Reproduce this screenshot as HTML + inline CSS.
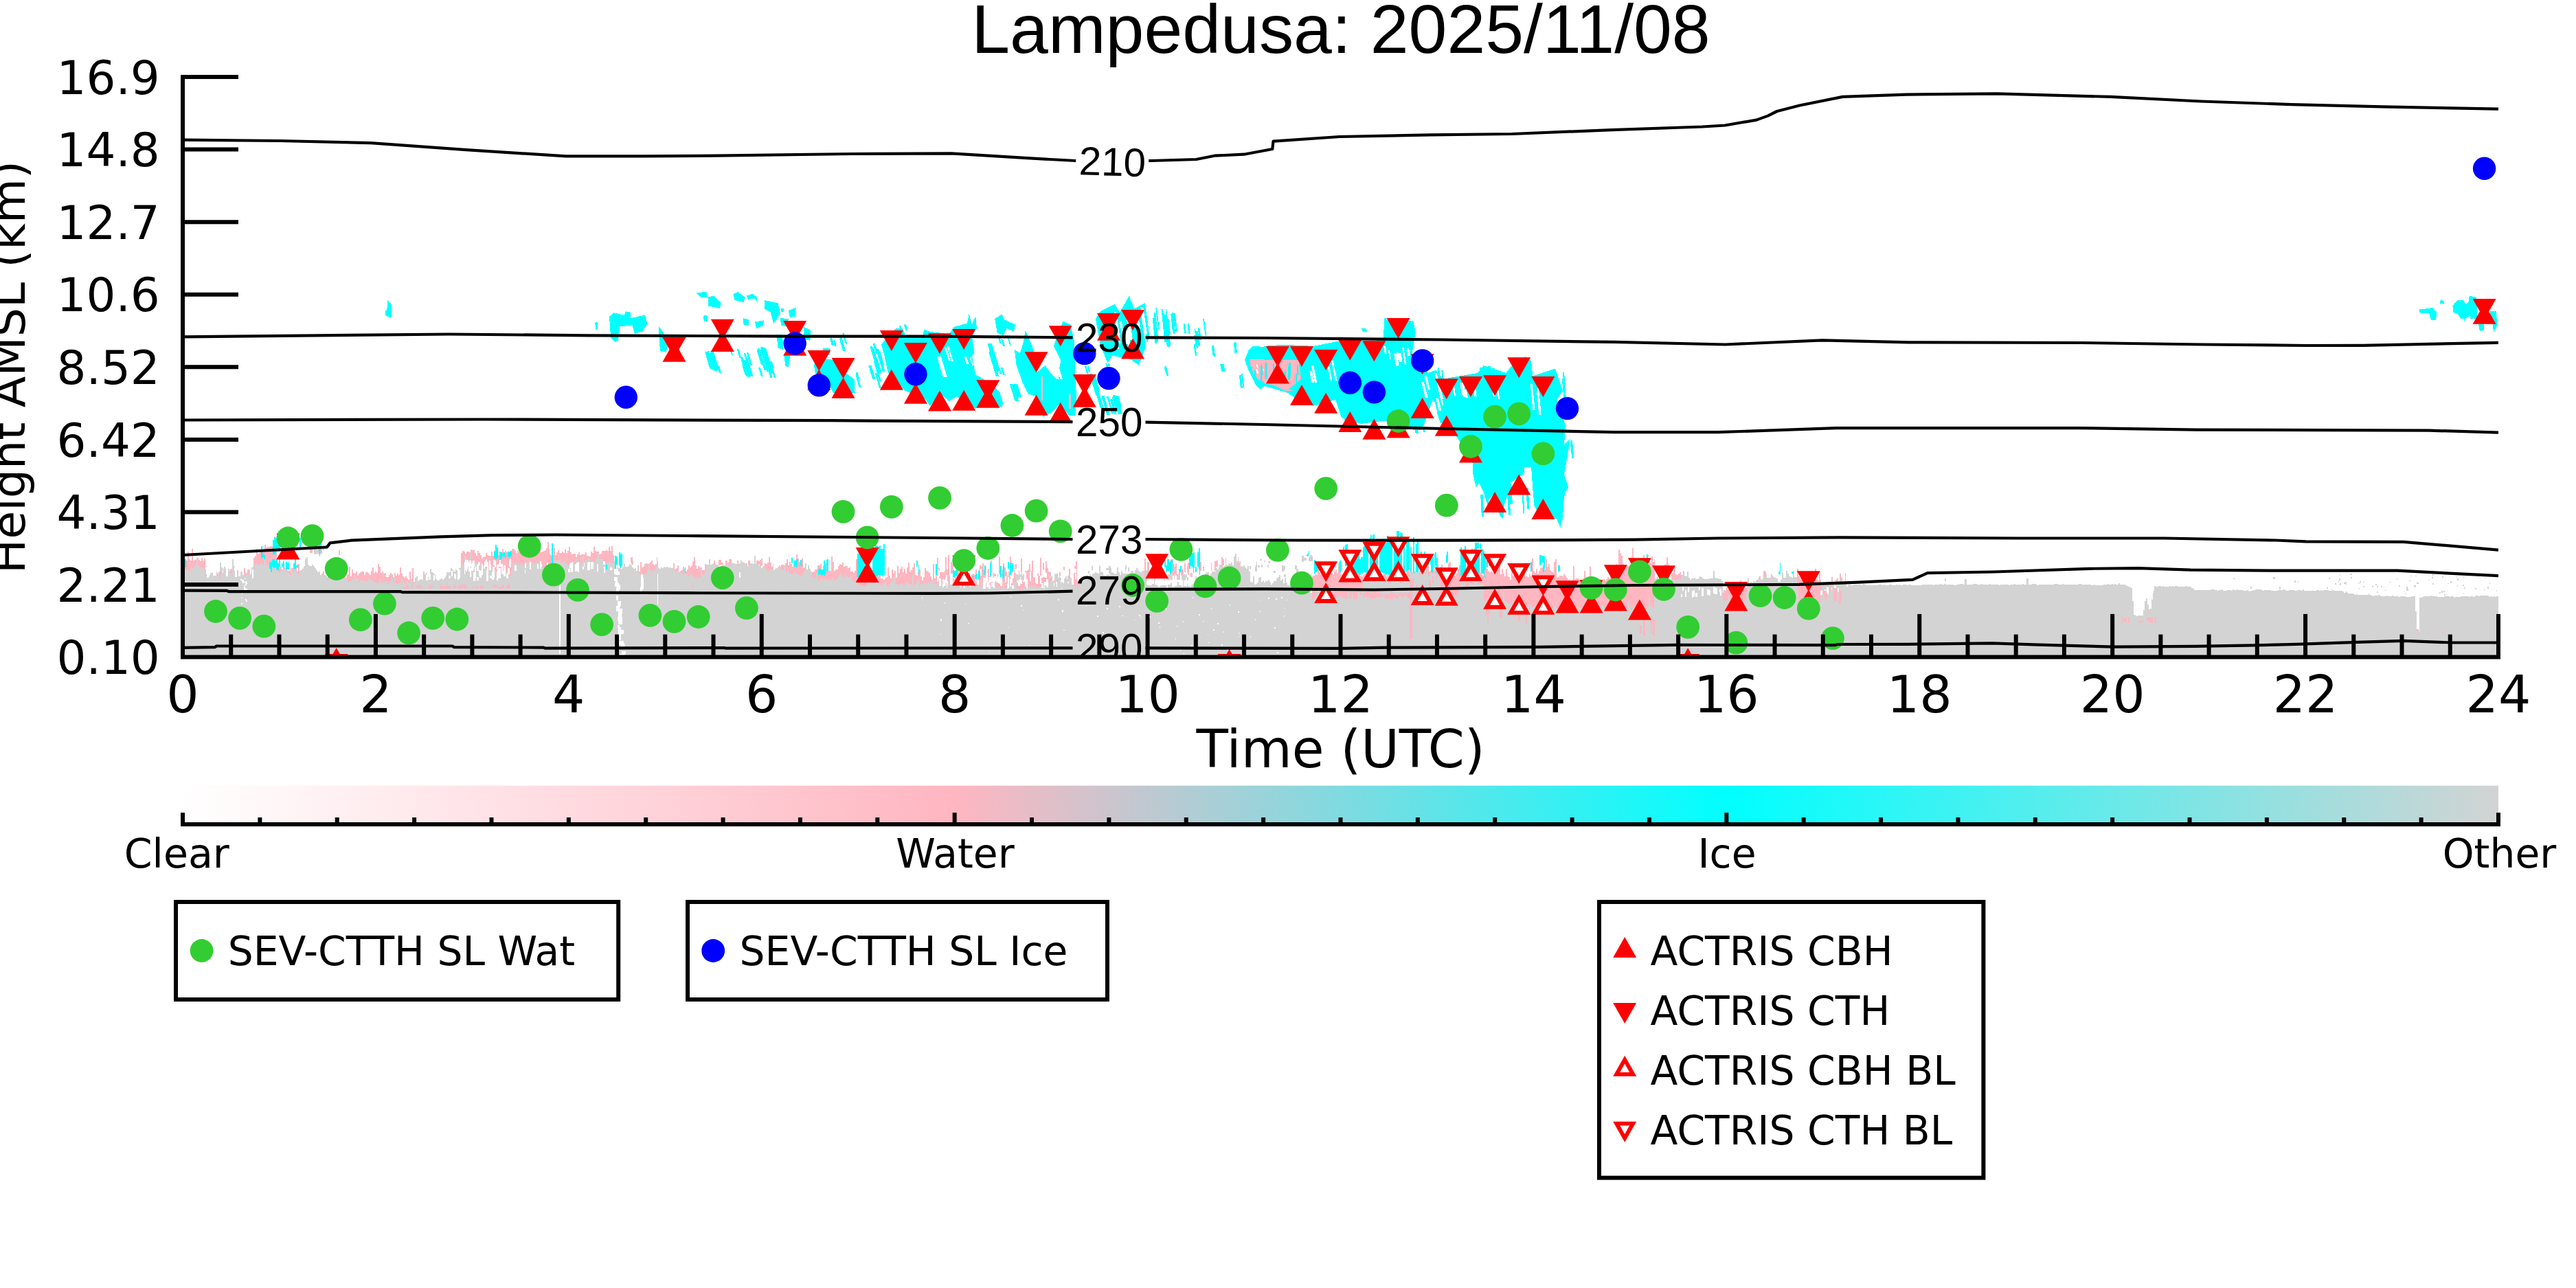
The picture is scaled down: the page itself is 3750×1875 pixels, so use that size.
<!DOCTYPE html>
<html lang="en"><head><meta charset="utf-8"><title>Lampedusa: 2025/11/08</title>
<style>html,body{margin:0;padding:0;background:#fff;}body{width:3750px;height:1875px;overflow:hidden;}svg{display:block;}text{font-family:"DejaVu Sans","Liberation Sans",sans-serif;fill:#000;}.lib{font-family:"Liberation Sans","DejaVu Sans",sans-serif;}</style></head><body>
<svg width="3750" height="1875" viewBox="0 0 3750 1875">
<defs>
<clipPath id="ax"><rect x="266.0" y="72.0" width="3371.0" height="884.6"/></clipPath>
<linearGradient id="cb" x1="0" y1="0" x2="1" y2="0"><stop offset="0" stop-color="#ffffff"/><stop offset="0.33333" stop-color="#ffb6c1"/><stop offset="0.66667" stop-color="#00ffff"/><stop offset="1" stop-color="#d3d3d3"/></linearGradient>
</defs>
<rect x="0" y="0" width="3750" height="1875" fill="#fff"/>
<g clip-path="url(#ax)" shape-rendering="crispEdges">
<path fill="#ffb6c1" d="M268.7,956.6V813.8h2.0V815.9h2.0V802.8h2.0V814.4h2.0V815.6h2.0V798.8h2.0V815.5h2.0V815.3h2.0V813.7h2.0V812.4h2.0V815.0h2.0V816.6h2.0V812.4h2.0V815.8h2.0V812.6h2.0V794.3h0.4V956.6zM368.7,956.6V812.0h2.0V808.7h2.0V798.9h2.0V806.4h2.0V805.2h2.0V800.7h2.0V801.0h2.0V799.0h2.0V793.4h2.0V796.9h2.0V795.5h2.0V795.9h2.0V795.0h2.0V794.7h2.0V800.5h2.0V803.6h2.0V803.6h2.0V812.4h0.8V956.6zM403.5,956.6V824.9h2.0V826.9h2.0V824.8h2.0V829.9h2.0V820.7h2.0V826.3h2.0V826.3h2.0V830.8h2.0V830.5h2.0V829.9h2.0V827.4h2.0V826.5h2.0V824.3h2.0V825.0h2.0V831.5h2.0V821.0h2.0V830.6h2.0V830.0h2.0V827.9h2.0V827.9h2.0V829.6h2.0V834.2h2.0V824.5h2.0V828.6h2.0V827.3h2.0V827.9h2.0V828.8h2.0V831.6h2.0V834.0h2.0V834.7h2.0V836.2h2.0V837.4h2.0V834.6h2.0V831.6h2.0V838.8h2.0V838.4h2.0V841.1h1.9V956.6zM477.4,956.6V839.0h2.0V829.5h2.0V844.8h2.0V845.5h2.0V840.5h2.0V841.8h2.0V839.5h2.0V841.0h2.0V838.3h2.0V835.6h2.0V835.5h2.0V836.2h2.0V836.7h2.0V840.5h2.0V837.3h0.3V956.6zM505.7,956.6V836.0h2.0V824.8h2.0V839.1h2.0V828.9h2.0V834.3h2.0V834.8h2.0V831.5h2.0V837.7h2.0V835.0h2.0V832.5h2.0V832.1h2.0V831.5h2.0V836.9h2.0V833.4h2.0V833.4h2.0V835.1h2.0V837.2h2.0V830.9h2.0V826.3h2.0V833.9h2.0V832.4h2.0V833.6h2.0V821.4h2.0V824.9h2.0V833.6h2.0V832.0h2.0V834.6h2.0V833.7h2.0V839.6h2.0V839.8h2.0V836.6h2.0V833.6h2.0V836.2h2.0V839.9h2.0V834.3h2.0V837.7h2.0V835.1h2.0V836.5h2.0V826.2h2.0V834.6h2.0V838.7h2.0V841.3h2.0V838.8h2.0V841.7h2.0V843.8h2.0V831.6h2.0V842.9h2.0V826.5h2.0V846.5h2.0V843.7h2.0V840.6h2.0V845.8h2.0V846.5h2.0V845.9h2.0V843.8h2.0V832.0h2.0V843.9h1.0V956.6zM670.9,956.6V805.2h2.0V802.2h2.0V802.9h2.0V806.4h2.0V802.7h2.0V803.0h2.0V803.6h2.0V799.6h2.0V801.2h2.0V799.5h2.0V805.0h2.0V808.9h2.0V802.4h2.0V804.6h2.0V807.8h2.0V813.1h2.0V811.2h2.0V810.0h2.0V805.4h2.0V808.3h2.0V808.5h2.0V809.1h2.0V802.6h2.0V808.5h2.0V802.4h2.0V804.6h2.0V799.9h2.0V808.0h2.0V806.7h2.0V804.6h2.0V799.0h2.0V807.2h2.0V802.4h2.0V803.7h2.0V804.2h2.0V804.5h2.0V805.0h2.0V799.2h2.0V799.4h2.0V800.6h2.0V804.8h2.0V802.4h2.0V803.6h2.0V804.9h2.0V804.3h2.0V802.6h2.0V802.8h2.0V802.0h2.0V800.1h2.0V801.7h2.0V801.2h2.0V801.9h2.0V800.9h2.0V796.1h2.0V797.6h2.0V795.9h2.0V794.7h2.0V799.1h2.0V803.7h2.0V802.7h2.0V801.9h2.0V801.1h2.0V798.3h2.0V788.8h2.0V798.6h1.1V956.6zM800.0,956.6V806.9h2.0V808.8h2.0V807.9h2.0V797.6h2.0V808.3h2.0V803.5h2.0V801.4h2.0V804.7h2.0V805.4h2.0V803.4h2.0V804.7h2.0V800.4h2.0V804.8h2.0V802.3h2.0V796.0h2.0V804.1h2.0V806.6h2.0V806.0h2.0V806.2h2.0V811.4h2.0V807.1h2.0V803.5h2.0V807.7h2.0V806.9h2.0V807.1h2.0V806.7h2.0V804.3h2.0V809.2h2.0V809.9h2.0V810.0h2.0V802.9h2.0V804.7h2.0V796.2h2.0V801.5h2.0V803.1h2.0V803.2h2.0V807.0h2.0V805.6h2.0V801.9h2.0V802.4h2.0V802.0h2.0V801.0h2.0V802.4h2.0V795.7h2.0V801.6h2.0V795.2h2.0V808.0h1.5V956.6zM930.4,956.6V831.8h2.0V817.5h2.0V825.5h2.0V824.5h2.0V820.9h2.0V819.9h2.0V820.7h2.0V822.1h2.0V818.3h2.0V815.5h2.0V820.9h2.0V822.8h2.0V820.5h2.0V811.2h0.1V956.6zM978.3,956.6V831.1h2.0V820.2h2.0V828.9h2.0V827.0h2.0V823.2h2.0V833.4h2.0V830.6h2.0V830.4h2.0V824.9h2.0V832.2h2.0V831.5h2.0V829.1h2.0V822.6h2.0V826.3h2.0V823.8h2.0V817.0h2.0V811.1h2.0V822.6h2.0V827.6h2.0V824.2h2.0V825.9h2.0V827.9h2.0V830.0h2.0V830.2h2.0V820.8h2.0V956.6zM1110.9,956.6V823.6h2.0V820.2h2.0V820.9h2.0V818.8h2.0V811.3h2.0V818.5h2.0V824.9h2.0V821.0h1.2V956.6zM1134.8,956.6V825.0h2.0V821.6h2.0V822.4h2.0V823.0h2.0V820.4h2.0V814.1h2.0V823.3h2.0V818.3h2.0V821.3h2.0V825.0h2.0V818.8h2.0V818.2h2.0V806.7h2.0V813.0h2.0V817.7h2.0V820.3h2.0V813.4h2.0V827.1h2.0V826.2h2.0V828.0h1.1V956.6zM1180.4,956.6V837.3h2.0V833.2h2.0V831.8h2.0V829.2h2.0V828.7h2.0V823.1h2.0V823.1h2.0V820.5h2.0V830.2h2.0V824.4h2.0V824.3h2.0V820.1h2.0V826.4h2.0V831.0h2.0V830.5h2.0V809.6h2.0V817.5h2.0V830.5h2.0V829.2h2.0V828.8h2.0V824.1h2.0V821.3h2.0V821.6h2.0V818.5h2.0V824.9h2.0V823.8h2.0V823.7h2.0V826.8h2.0V826.3h2.0V831.9h2.0V832.4h2.0V833.8h2.0V830.8h1.2V956.6zM1245.7,956.6V813.9h2.0V823.1h2.0V831.6h2.0V833.9h2.0V825.6h2.0V829.9h2.0V833.8h2.0V815.7h2.0V805.6h2.0V833.3h2.0V833.9h2.0V836.4h2.0V826.5h2.0V828.4h2.0V832.7h2.0V831.9h2.0V838.6h2.0V830.1h2.0V842.3h2.0V842.4h2.0V844.1h2.0V842.4h2.0V840.2h2.0V825.7h2.0V837.7h2.0V841.8h2.0V828.7h2.0V834.6h2.0V831.2h2.0V841.2h2.0V824.3h2.0V834.2h2.0V828.2h2.0V825.3h2.0V832.6h2.0V827.5h2.0V834.8h2.0V826.1h2.0V819.4h2.0V832.1h2.0V829.6h2.0V825.5h2.0V820.3h2.0V836.8h2.0V838.3h2.0V832.9h2.0V828.7h2.0V820.2h0.3V956.6zM1340.0,956.6V838.9h2.0V844.7h2.0V840.4h2.0V826.7h2.0V831.4h2.0V831.9h2.0V833.5h2.0V838.6h2.0V843.8h2.0V821.4h2.0V841.9h2.0V833.6h2.0V811.5h2.0V827.4h2.0V832.6h2.0V832.8h2.0V830.7h2.0V830.7h2.0V811.4h2.0V829.1h2.0V808.3h2.0V839.4h2.0V817.6h2.0V820.7h2.0V843.0h2.0V841.1h2.0V820.2h2.0V829.7h2.0V839.4h2.0V833.8h2.0V833.2h2.0V834.7h2.0V835.4h2.0V823.9h2.0V825.5h2.0V821.4h2.0V842.1h2.0V835.3h2.0V836.1h2.0V836.1h2.0V829.1h2.0V835.7h2.0V828.8h2.0V823.4h2.0V824.5h2.0V819.5h2.0V830.0h2.0V837.1h2.0V832.3h2.0V828.4h2.0V837.6h2.0V815.6h2.0V832.9h2.0V833.6h2.0V835.5h2.0V844.7h2.0V834.8h2.0V810.1h2.0V833.6h2.0V835.1h2.0V820.4h2.0V826.3h2.0V831.8h2.0V839.0h2.0V832.1h2.0V809.8h2.0V819.4h2.0V842.0h2.0V826.8h2.0V820.8h2.0V833.6h2.0V830.7h2.0V831.9h2.0V812.6h2.0V836.0h2.0V835.5h2.0V830.8h2.0V830.8h2.0V829.2h2.0V821.4h2.0V830.6h2.0V816.0h2.0V834.7h2.0V829.9h2.0V835.6h2.0V835.3h2.0V838.2h2.0V812.1h2.0V841.0h2.0V819.4h2.0V827.6h2.0V816.9h2.0V827.1h2.0V832.4h2.0V833.4h2.0V839.2h2.0V839.5h2.0V829.7h2.0V839.1h2.0V835.3h2.0V841.4h2.0V833.1h2.0V835.7h2.0V840.1h2.0V825.2h2.0V840.9h2.0V845.7h2.0V845.2h2.0V827.6h2.0V841.3h2.0V842.4h2.0V832.3h2.0V824.0h2.0V816.6h2.0V819.6h0.3V956.6zM1568.3,956.6V845.5h2.0V845.4h2.0V844.6h2.0V849.6h2.0V847.2h2.0V839.1h2.0V841.7h2.0V850.1h2.0V849.5h2.0V848.2h2.0V844.7h1.7V956.6zM1910.4,956.6V839.3h2.0V838.1h2.0V836.0h2.0V836.5h2.0V826.9h2.0V833.1h2.0V835.9h2.0V829.5h2.0V830.4h2.0V831.6h2.0V834.8h2.0V830.6h2.0V828.5h2.0V835.1h2.0V833.6h2.0V835.5h2.0V832.1h2.0V828.9h2.0V833.5h2.0V821.9h2.0V831.5h2.0V835.6h2.0V837.5h2.0V839.7h2.0V828.8h2.0V839.3h2.0V838.9h2.0V838.6h2.0V837.1h2.0V839.5h2.0V835.8h2.0V838.6h2.0V841.7h2.0V831.1h2.0V831.8h2.0V837.5h2.0V839.1h2.0V836.7h2.0V835.1h2.0V830.6h2.0V839.0h2.0V836.1h2.0V835.2h2.0V830.0h2.0V831.0h2.0V831.9h2.0V830.6h2.0V832.4h2.0V834.3h2.0V838.2h2.0V837.1h2.0V838.0h2.0V836.1h2.0V836.1h2.0V838.9h2.0V838.1h2.0V825.7h2.0V833.9h2.0V834.4h2.0V823.3h2.0V832.8h2.0V832.8h2.0V837.4h2.0V834.6h2.0V834.8h2.0V822.1h2.0V830.5h2.0V822.9h2.0V834.5h2.0V831.9h2.0V825.1h2.0V835.2h2.0V832.7h2.0V834.4h2.0V837.0h2.0V834.2h2.0V837.2h2.0V834.0h2.0V831.4h2.0V831.3h2.0V836.2h2.0V823.8h2.0V833.1h2.0V823.6h2.0V818.8h2.0V832.0h2.0V830.8h2.0V829.9h2.0V831.7h2.0V827.6h2.0V824.9h2.0V824.1h2.0V826.5h2.0V824.9h2.0V822.4h2.0V825.5h2.0V825.9h2.0V825.6h2.0V827.0h2.0V820.2h2.0V818.0h2.0V829.5h2.0V833.6h2.0V836.5h2.0V837.6h2.0V835.3h2.0V828.4h2.0V823.4h2.0V824.3h2.0V826.0h2.0V831.5h2.0V831.8h2.0V827.8h2.0V827.3h2.0V832.8h2.0V834.8h2.0V833.8h2.0V821.7h2.0V836.3h2.0V837.2h2.0V836.1h2.0V834.1h2.0V832.8h2.0V836.4h2.0V837.7h2.0V828.5h2.0V816.0h2.0V828.3h2.0V831.0h2.0V833.3h2.0V831.9h2.0V833.4h2.0V826.7h2.0V821.4h2.0V806.7h2.0V822.4h2.0V821.2h2.0V836.0h2.0V828.0h2.0V835.4h2.0V838.7h2.0V827.7h2.0V839.0h2.0V840.0h2.0V843.8h2.0V830.2h2.0V838.4h2.0V837.0h2.0V836.3h2.0V839.8h2.0V839.3h2.0V836.7h2.0V831.8h2.0V839.5h2.0V832.7h2.0V838.5h2.0V838.8h2.0V840.1h2.0V836.2h2.0V838.6h2.0V813.0h2.0V831.2h2.0V834.4h2.0V828.2h2.0V835.2h2.0V830.8h2.0V826.6h2.0V826.1h2.0V828.0h2.0V829.0h2.0V814.3h2.0V825.2h2.0V820.8h2.0V830.3h2.0V832.3h2.0V832.5h2.0V817.6h2.0V814.0h2.0V840.5h2.0V840.4h2.0V838.2h2.0V838.0h2.0V838.5h2.0V836.3h2.0V838.2h2.0V840.8h2.0V843.5h2.0V843.7h2.0V846.8h2.0V843.9h2.0V824.2h2.0V843.2h2.0V841.5h2.0V841.6h2.0V844.1h2.0V843.9h2.0V844.3h2.0V841.9h2.0V831.0h2.0V846.7h2.0V845.9h2.0V847.9h2.0V824.7h2.0V843.8h2.0V843.9h2.0V847.9h2.0V844.3h2.0V844.7h2.0V843.8h2.0V843.2h2.0V847.1h2.0V846.0h2.0V843.0h2.0V844.5h2.0V843.0h2.0V840.3h2.0V842.2h2.0V833.5h2.0V823.0h2.0V831.1h2.0V830.3h2.0V821.0h2.0V826.8h2.0V800.0h2.0V805.4h2.0V809.4h2.0V821.4h2.0V824.6h2.0V824.4h2.0V823.4h2.0V823.6h2.0V821.5h2.0V820.9h2.0V797.7h2.0V819.1h2.0V820.1h2.0V818.6h2.0V822.1h2.0V824.8h2.0V821.5h2.0V823.2h2.0V807.9h2.0V824.4h2.0V824.9h2.0V822.4h2.0V816.9h2.0V820.4h2.0V809.6h2.0V818.3h2.0V814.0h0.3V956.6zM2422.2,956.6V821.5h2.0V820.7h2.0V810.8h2.0V821.0h1.6V956.6zM2433.0,956.6V836.7h2.0V837.7h2.0V824.9h2.0V836.2h2.0V836.9h2.0V835.0h2.0V833.2h2.0V837.4h2.0V837.0h1.4V956.6zM2502.6,956.6V854.9h2.0V856.0h2.0V862.7h2.0V859.0h2.0V859.5h2.0V855.1h2.0V857.9h2.0V858.2h2.0V854.3h2.0V859.9h2.0V853.4h2.0V858.2h2.0V857.3h2.0V855.1h2.0V855.9h2.0V844.6h2.0V856.2h2.0V857.2h2.0V856.0h2.0V856.1h2.0V855.3h1.3V956.6zM2557.0,956.6V843.9h2.0V843.0h2.0V838.7h2.0V845.8h2.0V846.0h2.0V830.9h2.0V832.2h2.0V841.9h2.0V842.7h2.0V844.2h2.0V845.1h2.0V838.3h2.0V839.7h2.0V840.7h2.0V848.3h2.0V846.3h0.4V956.6zM2615.7,956.6V827.5h2.0V838.9h2.0V841.8h2.0V844.1h2.0V841.5h2.0V839.5h2.0V836.0h2.0V838.5h2.0V840.6h2.0V840.0h2.0V833.3h2.0V837.2h2.0V838.9h2.0V828.4h2.0V842.5h2.0V844.6h2.0V835.3h2.0V845.1h0.8V956.6zM2650.4,956.6V853.2h2.0V852.4h2.0V856.1h2.0V852.4h2.0V851.8h2.0V853.5h2.0V855.7h2.0V847.1h2.0V840.0h2.0V855.1h2.0V852.9h2.0V843.7h2.0V842.3h2.0V847.3h2.0V835.4h2.0V840.7h2.0V849.3h2.0V848.6h2.0V833.9h1.0V956.6z"/>
<path fill="#d3d3d3" d="M266.0,956.6V828.1h2.0V830.3h2.0V829.3h2.0V829.8h2.0V830.4h2.0V830.2h2.0V825.0h2.0V828.3h2.0V824.4h2.0V824.1h2.0V811.5h2.0V823.0h2.0V826.1h2.0V826.3h2.0V827.7h2.0V825.7h2.0V828.8h2.0V823.8h2.0V830.4h2.0V836.6h2.0V833.9h2.0V833.6h2.0V832.1h2.0V834.3h2.0V832.4h2.0V834.6h2.0V832.3h2.0V818.6h2.0V825.9h2.0V827.8h2.0V825.3h2.0V827.6h2.0V830.4h2.0V827.9h2.0V830.5h2.0V828.3h2.0V813.5h2.0V824.3h2.0V827.6h2.0V829.5h2.0V833.0h2.0V826.6h2.0V832.3h2.0V832.0h2.0V829.5h2.0V833.3h2.0V833.6h2.0V829.1h2.0V830.2h2.0V828.3h2.0V826.3h2.0V825.3h2.0V822.0h2.0V820.7h2.0V822.2h2.0V824.3h2.0V820.1h2.0V819.7h2.0V823.0h2.0V809.8h2.0V819.4h2.0V823.0h2.0V821.2h2.0V824.7h2.0V823.7h2.0V824.4h2.0V829.0h2.0V820.8h2.0V820.9h2.0V833.4h2.0V833.3h2.0V832.3h2.0V828.7h2.0V829.0h2.0V825.9h2.0V832.1h2.0V832.8h2.0V835.0h2.0V836.5h2.0V830.7h2.0V832.5h2.0V828.7h2.0V832.0h2.0V835.2h2.0V837.5h2.0V832.4h2.0V831.7h2.0V828.5h2.0V823.5h2.0V813.9h2.0V811.4h2.0V822.4h2.0V823.5h2.0V823.9h2.0V822.0h2.0V824.1h2.0V827.4h2.0V829.5h2.0V832.5h2.0V832.3h2.0V836.7h2.0V837.1h2.0V835.8h2.0V836.8h2.0V837.5h2.0V845.0h2.0V840.9h2.0V841.6h2.0V840.9h2.0V840.1h2.0V841.6h2.0V840.8h2.0V839.8h2.0V843.1h2.0V841.9h2.0V841.6h2.0V842.0h2.0V843.7h2.0V840.5h2.0V844.0h2.0V845.5h2.0V846.9h2.0V846.0h2.0V843.5h2.0V843.7h2.0V836.2h2.0V842.9h2.0V842.0h2.0V848.0h2.0V843.8h2.0V845.4h2.0V845.0h2.0V845.6h2.0V846.6h2.0V845.6h2.0V841.5h2.0V844.4h2.0V843.8h2.0V845.8h2.0V846.5h2.0V848.0h2.0V848.9h2.0V848.2h2.0V842.8h2.0V847.4h2.0V847.9h2.0V846.5h2.0V846.8h2.0V846.1h2.0V849.6h2.0V846.0h2.0V844.6h2.0V841.2h2.0V847.7h2.0V839.9h2.0V848.8h2.0V849.7h2.0V849.2h2.0V847.7h2.0V842.7h2.0V848.4h2.0V848.5h2.0V845.6h2.0V846.7h2.0V848.6h2.0V846.3h2.0V844.9h2.0V845.9h2.0V849.2h2.0V840.5h2.0V839.1h2.0V846.3h2.0V844.1h2.0V842.7h2.0V844.2h2.0V843.6h2.0V835.6h2.0V833.8h2.0V836.4h2.0V836.0h2.0V828.4h2.0V833.3h2.0V834.0h2.0V836.0h2.0V843.0h2.0V845.0h2.0V844.9h2.0V843.2h2.0V841.5h2.0V843.5h2.0V842.1h2.0V837.9h2.0V832.6h2.0V832.6h2.0V833.3h2.0V827.2h2.0V828.7h2.0V825.7h2.0V827.7h2.0V830.1h2.0V828.6h2.0V826.9h2.0V826.3h2.0V822.7h2.0V821.3h2.0V807.9h2.0V819.6h2.0V817.7h2.0V817.9h2.0V803.8h2.0V817.6h2.0V818.4h2.0V819.9h2.0V819.8h2.0V820.4h2.0V820.0h2.0V823.3h2.0V822.9h2.0V823.4h2.0V822.7h2.0V825.5h2.0V828.1h2.0V824.9h2.0V828.3h2.0V828.9h2.0V826.6h2.0V827.2h2.0V830.3h2.0V835.1h2.0V836.2h2.0V835.0h2.0V832.9h2.0V832.4h2.0V834.6h2.0V829.7h2.0V831.3h2.0V833.3h2.0V837.1h2.0V838.7h2.0V831.2h2.0V819.8h2.0V819.1h2.0V819.4h2.0V821.7h2.0V820.0h2.0V823.4h2.0V821.1h2.0V823.0h2.0V821.7h2.0V818.2h2.0V817.9h2.0V818.9h2.0V816.4h2.0V819.3h2.0V818.6h2.0V819.5h2.0V819.6h2.0V818.0h2.0V819.1h2.0V819.7h2.0V816.8h2.0V823.0h2.0V827.2h2.0V827.9h2.0V824.0h2.0V818.3h2.0V821.8h2.0V821.6h2.0V817.0h2.0V819.4h2.0V818.1h2.0V815.9h2.0V814.9h2.0V816.2h2.0V815.5h2.0V818.9h2.0V819.4h2.0V817.0h2.0V821.0h2.0V820.9h2.0V821.9h2.0V820.9h2.0V819.0h2.0V816.9h2.0V817.9h2.0V820.7h2.0V812.6h2.0V819.2h2.0V817.4h2.0V819.2h2.0V819.2h2.0V811.0h2.0V818.8h2.0V814.9h2.0V814.8h2.0V812.6h2.0V814.2h2.0V818.0h2.0V818.4h2.0V817.7h2.0V816.7h2.0V812.4h2.0V804.6h2.0V813.6h2.0V814.1h2.0V813.9h2.0V816.5h2.0V818.5h2.0V820.1h2.0V818.6h2.0V818.0h2.0V819.1h2.0V820.2h2.0V820.0h2.0V816.5h2.0V824.6h2.0V826.1h2.0V827.4h2.0V826.2h2.0V827.5h2.0V824.8h2.0V821.4h2.0V825.3h2.0V825.1h2.0V823.8h2.0V821.3h2.0V822.9h2.0V825.6h2.0V827.6h2.0V827.3h2.0V830.5h2.0V822.8h2.0V834.8h2.0V836.5h2.0V834.0h2.0V835.7h2.0V836.3h2.0V835.7h2.0V829.2h2.0V820.4h2.0V831.4h2.0V831.3h2.0V830.5h2.0V830.1h2.0V825.6h2.0V817.1h2.0V826.7h2.0V827.7h2.0V826.0h2.0V827.3h2.0V825.0h2.0V825.7h2.0V825.4h2.0V825.9h2.0V826.1h2.0V827.3h2.0V826.6h2.0V829.5h2.0V830.6h2.0V832.1h2.0V832.3h2.0V834.9h2.0V833.7h2.0V834.8h2.0V836.1h2.0V827.6h2.0V836.5h2.0V836.2h2.0V838.5h2.0V836.2h2.0V835.6h2.0V837.5h2.0V842.1h2.0V837.8h2.0V842.5h2.0V841.0h2.0V841.0h2.0V825.6h2.0V837.6h2.0V836.3h2.0V830.5h2.0V821.8h2.0V821.5h2.0V813.5h2.0V822.3h2.0V820.8h2.0V820.2h2.0V820.5h2.0V822.2h2.0V822.2h2.0V824.6h2.0V824.7h2.0V822.6h2.0V821.8h2.0V822.7h2.0V819.1h2.0V820.4h2.0V817.7h2.0V815.9h2.0V818.7h2.0V820.2h2.0V819.5h2.0V820.6h2.0V820.6h2.0V821.4h2.0V820.1h2.0V815.9h2.0V818.1h2.0V819.4h2.0V820.2h2.0V819.9h2.0V823.8h2.0V821.8h2.0V819.6h2.0V819.9h2.0V820.7h2.0V808.9h2.0V821.2h2.0V821.1h2.0V822.7h2.0V824.3h2.0V826.5h2.0V825.1h2.0V825.3h2.0V827.1h2.0V830.6h2.0V831.4h2.0V828.8h2.0V829.5h2.0V827.9h2.0V830.0h2.0V828.1h2.0V826.5h2.0V825.2h2.0V823.3h2.0V827.5h2.0V829.6h2.0V829.5h2.0V823.9h2.0V832.2h2.0V825.2h2.0V835.4h2.0V835.4h2.0V835.9h2.0V834.3h2.0V831.9h2.0V836.1h2.0V834.8h2.0V837.1h2.0V837.5h2.0V838.1h2.0V835.2h2.0V831.3h2.0V820.2h2.0V828.9h2.0V822.5h2.0V828.0h2.0V832.4h2.0V840.9h2.0V840.5h2.0V841.9h2.0V834.0h2.0V845.5h2.0V845.1h2.0V843.0h2.0V842.0h2.0V843.5h2.0V842.9h2.0V844.0h2.0V846.6h2.0V845.0h2.0V844.2h2.0V842.8h2.0V839.6h2.0V844.7h2.0V843.7h2.0V842.2h2.0V838.2h2.0V834.8h2.0V837.3h2.0V839.0h2.0V841.2h2.0V834.6h2.0V839.1h2.0V839.8h2.0V839.5h2.0V837.7h2.0V845.7h2.0V846.8h2.0V847.2h2.0V848.1h2.0V850.6h2.0V846.7h2.0V853.6h2.0V852.2h2.0V852.6h2.0V853.8h2.0V851.5h2.0V849.5h2.0V846.2h2.0V841.5h2.0V847.7h2.0V847.9h2.0V846.9h2.0V848.0h2.0V848.2h2.0V849.5h2.0V852.4h2.0V849.0h2.0V852.5h2.0V850.4h2.0V846.2h2.0V851.5h2.0V853.6h2.0V850.0h2.0V848.4h2.0V846.6h2.0V840.1h2.0V838.7h2.0V849.6h2.0V852.0h2.0V851.9h2.0V850.3h2.0V849.4h2.0V850.5h2.0V852.4h2.0V847.0h2.0V848.1h2.0V850.5h2.0V850.4h2.0V850.8h2.0V838.4h2.0V851.6h2.0V849.8h2.0V846.1h2.0V842.7h2.0V852.7h2.0V850.2h2.0V849.3h2.0V850.1h2.0V848.6h2.0V850.2h2.0V846.7h2.0V848.8h2.0V846.1h2.0V847.1h2.0V849.6h2.0V844.9h2.0V849.6h2.0V848.1h2.0V852.0h2.0V847.9h2.0V847.5h2.0V850.0h2.0V849.3h2.0V851.3h2.0V849.8h2.0V847.5h2.0V839.6h2.0V851.8h2.0V849.6h2.0V853.2h2.0V853.3h2.0V852.4h2.0V852.9h2.0V856.2h2.0V855.2h2.0V855.5h2.0V854.3h2.0V853.2h2.0V851.6h2.0V853.7h2.0V853.2h2.0V853.0h2.0V852.9h2.0V853.5h2.0V855.1h2.0V854.2h2.0V853.2h2.0V846.3h2.0V854.0h2.0V842.4h2.0V850.8h2.0V850.3h2.0V850.6h2.0V850.4h2.0V853.0h2.0V855.3h2.0V854.2h2.0V851.6h2.0V852.5h2.0V841.3h2.0V852.8h2.0V855.2h2.0V854.3h2.0V857.4h2.0V856.3h2.0V844.9h2.0V856.5h2.0V856.3h2.0V854.8h2.0V853.2h2.0V852.6h2.0V852.4h2.0V855.3h2.0V845.7h2.0V847.9h2.0V855.6h2.0V857.2h2.0V859.6h2.0V855.9h2.0V858.8h2.0V855.6h2.0V857.6h2.0V855.4h2.0V853.5h2.0V852.6h2.0V854.4h2.0V853.8h2.0V851.9h2.0V853.5h2.0V854.5h2.0V855.3h2.0V855.2h2.0V854.4h2.0V852.5h2.0V850.8h2.0V850.4h2.0V847.8h2.0V847.7h2.0V848.0h2.0V848.5h2.0V848.5h2.0V851.2h2.0V848.5h2.0V848.6h2.0V847.6h2.0V850.2h2.0V840.5h2.0V848.5h2.0V847.3h2.0V845.2h2.0V846.0h2.0V842.6h2.0V840.6h2.0V841.7h2.0V840.5h2.0V846.9h2.0V851.0h2.0V853.8h2.0V851.1h2.0V857.0h2.0V851.9h2.0V842.8h2.0V846.8h2.0V846.1h2.0V844.1h2.0V842.4h2.0V840.9h2.0V839.9h2.0V835.6h2.0V837.5h2.0V835.2h2.0V835.2h2.0V832.8h2.0V834.3h2.0V834.8h2.0V832.9h2.0V832.4h2.0V832.9h2.0V836.9h2.0V837.5h2.0V837.3h2.0V836.3h2.0V837.0h2.0V827.0h2.0V832.9h2.0V834.0h2.0V835.6h2.0V835.1h2.0V826.4h2.0V833.0h2.0V837.0h2.0V831.1h2.0V834.8h2.0V834.5h2.0V834.8h2.0V834.9h2.0V834.7h2.0V834.2h2.0V830.6h2.0V831.4h2.0V833.6h2.0V830.2h2.0V827.4h2.0V829.9h2.0V831.6h2.0V833.2h2.0V830.7h2.0V831.3h2.0V837.5h2.0V830.2h2.0V851.7h2.0V851.2h2.0V851.6h2.0V849.6h2.0V849.7h2.0V837.6h2.0V850.6h2.0V852.4h2.0V855.3h2.0V852.5h2.0V851.7h2.0V851.7h2.0V843.4h2.0V851.8h2.0V856.3h2.0V851.4h2.0V850.5h2.0V849.0h2.0V853.9h2.0V855.0h2.0V852.9h2.0V853.0h2.0V847.3h2.0V852.0h2.0V852.4h2.0V853.7h2.0V845.1h2.0V853.0h2.0V852.6h2.0V850.2h2.0V845.3h2.0V854.3h2.0V852.4h2.0V850.4h2.0V852.6h2.0V838.7h2.0V844.3h2.0V842.3h2.0V846.6h2.0V845.5h2.0V841.3h2.0V839.2h2.0V835.3h2.0V832.9h2.0V832.9h2.0V837.6h2.0V835.0h2.0V832.3h2.0V832.4h2.0V831.8h2.0V826.5h2.0V829.3h2.0V826.4h2.0V825.5h2.0V824.0h2.0V825.4h2.0V823.6h2.0V822.8h2.0V823.5h2.0V819.8h2.0V820.6h2.0V819.4h2.0V822.5h2.0V810.3h2.0V805.5h2.0V817.3h2.0V818.7h2.0V817.1h2.0V824.1h2.0V825.0h2.0V823.3h2.0V825.9h2.0V828.3h2.0V824.3h2.0V831.9h2.0V846.5h2.0V847.6h2.0V839.0h2.0V850.5h2.0V849.7h2.0V847.6h2.0V840.7h2.0V840.2h2.0V846.6h2.0V845.0h2.0V848.1h2.0V845.8h2.0V845.5h2.0V843.8h2.0V846.9h2.0V850.8h2.0V848.7h2.0V846.1h2.0V845.7h2.0V842.3h2.0V840.3h2.0V836.8h2.0V845.4h2.0V843.3h2.0V848.5h2.0V840.5h2.0V848.3h2.0V851.6h2.0V852.1h2.0V853.2h2.0V843.5h2.0V859.0h2.0V851.4h2.0V856.6h2.0V845.6h2.0V855.8h2.0V856.6h2.0V854.4h2.0V849.9h2.0V858.2h2.0V858.3h2.0V858.3h2.0V856.6h2.0V859.0h2.0V862.7h2.0V873.3h2.0V871.1h2.0V869.3h2.0V861.4h2.0V858.1h2.0V869.9h2.0V871.2h2.0V860.8h2.0V869.3h2.0V860.4h2.0V860.8h2.0V866.2h2.0V866.6h2.0V866.6h2.0V863.0h2.0V860.1h2.0V869.0h2.0V866.5h2.0V869.6h2.0V866.9h2.0V867.8h2.0V869.2h2.0V871.0h2.0V870.4h2.0V873.2h2.0V871.3h2.0V862.3h2.0V872.7h2.0V870.6h2.0V864.8h2.0V871.8h2.0V872.0h2.0V872.4h2.0V860.4h2.0V862.8h2.0V866.8h2.0V860.6h2.0V846.2h2.0V843.9h2.0V844.7h2.0V842.6h2.0V839.9h2.0V840.3h2.0V843.6h2.0V844.1h2.0V845.0h2.0V846.1h2.0V844.8h2.0V846.2h2.0V842.5h2.0V843.5h2.0V846.6h2.0V845.5h2.0V847.7h2.0V846.4h2.0V849.4h2.0V845.2h2.0V848.7h2.0V845.8h2.0V844.6h2.0V844.8h2.0V836.6h2.0V845.2h2.0V846.8h2.0V848.6h2.0V842.9h2.0V842.1h2.0V841.6h2.0V841.8h2.0V842.5h2.0V838.9h2.0V833.0h2.0V835.1h2.0V833.4h2.0V831.7h2.0V832.3h2.0V833.6h2.0V835.2h2.0V836.7h2.0V835.7h2.0V834.5h2.0V832.5h2.0V835.1h2.0V830.1h2.0V837.3h2.0V838.8h2.0V835.1h2.0V835.6h2.0V835.1h2.0V834.2h2.0V837.2h2.0V836.2h2.0V835.6h2.0V871.6h2.0V870.7h2.0V869.3h2.0V863.8h2.0V866.5h2.0V868.2h2.0V869.1h2.0V867.1h2.0V866.2h2.0V865.8h2.0V865.9h2.0V866.9h2.0V867.8h2.0V864.5h2.0V854.8h2.0V849.0h2.0V841.9h2.0V851.4h2.0V842.6h2.0V856.8h2.0V854.4h2.0V847.3h2.0V849.6h2.0V850.5h2.0V849.9h2.0V847.1h2.0V847.4h2.0V850.9h2.0V850.1h2.0V850.6h2.0V850.1h2.0V850.0h2.0V875.1h2.0V872.8h2.0V874.8h2.0V871.8h2.0V873.6h2.0V876.5h2.0V875.8h2.0V875.3h2.0V873.6h2.0V875.4h2.0V874.6h2.0V873.3h2.0V875.9h2.0V872.1h2.0V860.5h2.0V874.7h2.0V875.9h2.0V877.8h2.0V878.2h2.0V878.8h2.0V879.4h2.0V874.8h2.0V877.1h2.0V875.1h2.0V875.2h2.0V865.1h2.0V879.7h2.0V881.2h2.0V883.5h2.0V882.5h2.0V882.3h2.0V880.0h2.0V881.4h2.0V880.0h2.0V880.3h2.0V883.9h2.0V883.0h2.0V882.6h2.0V883.2h2.0V884.1h2.0V885.5h2.0V886.7h2.0V887.9h2.0V884.5h2.0V885.2h2.0V885.3h2.0V882.2h2.0V882.9h2.0V883.6h2.0V885.8h2.0V884.7h2.0V881.9h2.0V883.9h2.0V886.1h2.0V887.4h2.0V885.6h2.0V887.3h2.0V886.4h2.0V885.6h2.0V887.1h2.0V888.6h2.0V887.2h2.0V888.8h2.0V884.6h2.0V880.3h2.0V885.8h2.0V887.1h2.0V886.3h2.0V882.2h2.0V885.3h2.0V885.5h2.0V885.2h2.0V885.4h2.0V885.4h2.0V887.9h2.0V886.9h2.0V885.0h2.0V883.4h2.0V880.5h2.0V881.4h2.0V882.6h2.0V881.3h2.0V881.9h2.0V879.7h2.0V881.2h2.0V883.2h2.0V881.3h2.0V884.9h2.0V886.6h2.0V883.8h2.0V883.6h2.0V883.4h2.0V886.7h2.0V885.3h2.0V887.1h2.0V886.4h2.0V882.9h2.0V885.7h2.0V885.2h2.0V883.9h2.0V887.5h2.0V881.6h2.0V884.8h2.0V885.9h2.0V885.3h2.0V875.1h2.0V880.5h2.0V887.0h2.0V885.3h2.0V881.6h2.0V887.7h2.0V887.3h2.0V882.1h2.0V887.3h2.0V887.3h2.0V882.9h2.0V885.8h2.0V886.3h2.0V885.1h2.0V881.6h2.0V869.1h2.0V881.2h2.0V883.1h2.0V885.3h2.0V843.2h2.0V842.1h2.0V840.2h2.0V843.8h2.0V844.0h2.0V840.6h2.0V843.8h2.0V842.6h2.0V846.3h2.0V844.8h2.0V838.8h2.0V845.7h2.0V844.7h2.0V842.5h2.0V833.1h2.0V840.2h2.0V842.7h2.0V844.1h2.0V841.0h2.0V842.7h2.0V837.0h2.0V831.1h2.0V837.7h2.0V838.9h2.0V832.2h2.0V841.0h2.0V843.6h2.0V841.5h2.0V842.0h2.0V841.1h2.0V842.5h2.0V842.9h2.0V842.2h2.0V839.4h2.0V840.0h2.0V841.8h2.0V843.3h2.0V843.2h2.0V843.1h2.0V843.2h2.0V841.9h2.0V841.6h2.0V842.1h2.0V830.7h2.0V841.1h2.0V842.1h2.0V841.6h2.0V842.5h2.0V843.2h2.0V845.9h2.0V873.9h2.0V874.2h2.0V874.4h2.0V874.2h2.0V864.6h2.0V872.6h2.0V873.5h2.0V872.7h2.0V863.9h2.0V876.6h2.0V874.2h2.0V873.9h2.0V873.3h2.0V871.6h2.0V874.1h2.0V874.7h2.0V876.5h2.0V860.5h2.0V842.1h2.0V849.0h2.0V847.1h2.0V847.5h2.0V845.6h2.0V846.5h2.0V845.3h2.0V843.7h2.0V839.8h2.0V843.2h2.0V844.2h2.0V841.5h2.0V839.7h2.0V835.5h2.0V840.7h2.0V840.7h2.0V840.5h2.0V836.1h2.0V840.4h2.0V841.4h2.0V842.2h2.0V842.2h2.0V846.5h2.0V847.1h2.0V844.0h2.0V834.3h2.0V841.2h2.0V840.8h2.0V831.2h2.0V835.0h2.0V838.7h2.0V840.3h2.0V841.2h2.0V830.5h2.0V840.1h2.0V840.4h2.0V859.3h2.0V871.5h2.0V878.7h2.0V867.7h2.0V876.0h2.0V869.2h2.0V876.2h2.0V877.8h2.0V874.7h2.0V873.6h2.0V875.2h2.0V872.2h2.0V871.7h2.0V867.6h2.0V874.4h2.0V877.4h2.0V876.5h2.0V870.4h2.0V851.3h2.0V850.0h2.0V851.3h2.0V850.2h2.0V850.4h2.0V848.2h2.0V848.2h2.0V847.9h2.0V846.5h2.0V851.7h2.0V851.3h2.0V850.4h2.0V850.4h2.0V844.4h2.0V851.8h2.0V849.4h2.0V848.9h2.0V849.9h2.0V853.5h2.0V956.6zM2690.0,956.6V851.4h2.0V850.8h2.0V851.8h2.0V851.6h2.0V851.4h2.0V851.3h2.0V851.1h2.0V850.9h2.0V850.8h2.0V851.0h2.0V851.8h2.0V850.2h2.0V851.4h2.0V851.9h2.0V852.1h2.0V852.0h2.0V852.1h2.0V851.6h2.0V851.7h2.0V851.6h2.0V852.0h2.0V851.5h2.0V850.7h2.0V851.0h2.0V851.2h2.0V851.5h2.0V851.2h2.0V852.2h2.0V852.0h2.0V851.8h2.0V851.2h2.0V850.9h2.0V851.5h2.0V851.9h2.0V851.7h2.0V851.4h2.0V851.9h2.0V851.4h2.0V851.8h2.0V851.6h2.0V851.0h2.0V851.1h2.0V850.9h2.0V851.6h2.0V851.2h2.0V851.3h2.0V852.0h2.0V852.2h2.0V852.2h2.0V852.0h2.0V851.9h2.0V852.1h2.0V851.8h2.0V852.1h2.0V851.4h2.0V850.6h2.0V850.9h2.0V851.3h2.0V850.9h2.0V850.6h2.0V850.9h2.0V851.1h2.0V851.8h2.0V850.8h2.0V850.9h2.0V851.0h2.0V851.0h2.0V850.3h2.0V850.8h2.0V851.0h2.0V850.3h2.0V850.6h2.0V850.8h2.0V850.6h2.0V850.9h2.0V851.4h2.0V851.2h2.0V851.6h2.0V851.9h2.0V851.2h2.0V850.8h2.0V850.0h2.0V850.0h2.0V850.2h2.0V850.7h2.0V851.2h2.0V851.1h2.0V851.0h2.0V850.5h2.0V851.1h2.0V850.6h2.0V849.7h2.0V849.8h2.0V849.9h2.0V851.1h2.0V851.0h2.0V850.6h2.0V850.1h2.0V850.5h2.0V850.9h2.0V851.0h2.0V851.4h2.0V850.5h2.0V850.2h2.0V850.8h2.0V850.7h2.0V850.6h2.0V851.0h2.0V851.1h2.0V851.0h2.0V851.5h2.0V851.1h2.0V851.1h2.0V851.3h2.0V851.2h2.0V851.2h2.0V851.4h2.0V851.5h2.0V850.5h2.0V850.5h2.0V850.7h2.0V850.1h2.0V850.5h2.0V850.6h2.0V850.9h2.0V850.8h2.0V850.9h2.0V850.4h2.0V850.7h2.0V851.3h2.0V851.4h2.0V851.3h2.0V851.2h2.0V851.2h2.0V850.4h2.0V849.9h2.0V849.8h2.0V850.8h2.0V851.6h2.0V850.8h2.0V851.2h2.0V851.3h2.0V851.1h2.0V851.0h2.0V850.9h2.0V851.3h2.0V851.1h2.0V850.8h2.0V850.6h2.0V850.7h2.0V850.2h2.0V850.3h2.0V850.3h2.0V850.7h2.0V850.8h2.0V851.1h2.0V850.3h2.0V850.8h2.0V850.8h2.0V851.2h2.0V850.7h2.0V850.9h2.0V851.0h2.0V851.4h2.0V851.2h2.0V851.3h2.0V851.2h2.0V850.9h2.0V850.1h2.0V850.4h2.0V850.6h2.0V850.7h2.0V851.1h2.0V851.0h2.0V851.0h2.0V851.3h2.0V851.4h2.0V851.5h2.0V851.8h2.0V851.4h2.0V852.2h2.0V851.5h2.0V851.7h2.0V851.5h2.0V852.0h2.0V851.5h2.0V851.1h2.0V850.9h2.0V851.1h2.0V850.3h2.0V850.8h2.0V850.7h2.0V850.3h2.0V850.5h2.0V850.0h2.0V850.8h2.0V850.8h2.0V849.0h2.0V851.0h2.0V850.5h2.0V850.7h2.0V851.0h2.0V852.0h2.0V853.1h2.0V854.2h2.0V854.9h2.0V856.1h2.0V874.9h2.0V895.2h2.0V896.1h2.0V896.7h2.0V895.8h2.0V895.9h2.0V895.7h2.0V896.4h2.0V888.2h2.0V875.3h2.0V870.8h2.0V879.7h2.0V887.2h2.0V885.5h2.0V873.1h2.0V860.1h2.0V853.2h2.0V853.6h2.0V853.5h2.0V852.9h2.0V853.3h2.0V854.1h2.0V853.1h2.0V853.7h2.0V853.9h2.0V854.2h2.0V853.8h2.0V853.4h2.0V853.5h2.0V853.4h2.0V853.6h2.0V853.3h2.0V853.2h2.0V853.5h2.0V853.5h2.0V853.5h2.0V853.9h2.0V853.9h2.0V853.6h2.0V853.3h2.0V854.0h2.0V854.2h2.0V854.2h2.0V855.6h2.0V857.4h2.0V859.1h2.0V859.4h2.0V859.4h2.0V859.4h2.0V859.3h2.0V858.7h2.0V858.8h2.0V859.3h2.0V858.9h2.0V858.5h2.0V858.6h2.0V859.1h2.0V858.1h2.0V858.1h2.0V857.9h2.0V859.1h2.0V859.3h2.0V859.6h2.0V859.3h2.0V858.7h2.0V858.2h2.0V859.5h2.0V859.9h2.0V859.6h2.0V859.2h2.0V858.9h2.0V859.1h2.0V859.8h2.0V858.3h2.0V858.7h2.0V858.9h2.0V857.7h2.0V859.2h2.0V859.2h2.0V859.0h2.0V859.1h2.0V860.3h2.0V859.5h2.0V859.4h2.0V860.3h2.0V860.8h2.0V860.0h2.0V859.6h2.0V858.6h2.0V858.9h2.0V858.4h2.0V857.9h2.0V858.1h2.0V857.8h2.0V858.7h2.0V859.6h2.0V859.2h2.0V859.3h2.0V859.3h2.0V859.4h2.0V859.3h2.0V859.5h2.0V860.0h2.0V859.9h2.0V859.6h2.0V859.7h2.0V859.0h2.0V858.5h2.0V858.8h2.0V858.7h2.0V858.3h2.0V859.4h2.0V859.5h2.0V859.9h2.0V859.2h2.0V859.0h2.0V858.7h2.0V859.2h2.0V860.1h2.0V859.7h2.0V859.1h2.0V859.0h2.0V859.4h2.0V859.5h2.0V858.0h2.0V859.8h2.0V859.6h2.0V860.3h2.0V860.3h2.0V860.2h2.0V860.0h2.0V859.9h2.0V859.8h2.0V860.2h2.0V859.3h2.0V859.0h2.0V859.8h2.0V859.3h2.0V859.5h2.0V859.4h2.0V859.1h2.0V859.2h2.0V859.1h2.0V859.7h2.0V859.6h2.0V859.5h2.0V859.2h2.0V859.8h2.0V859.6h2.0V859.8h2.0V860.1h2.0V860.3h2.0V860.2h2.0V861.0h2.0V862.6h2.0V863.4h2.0V863.2h2.0V863.7h2.0V864.2h2.0V863.9h2.0V864.4h2.0V864.9h2.0V865.5h2.0V865.4h2.0V865.8h2.0V865.7h2.0V865.8h2.0V865.5h2.0V865.6h2.0V865.8h2.0V865.5h2.0V865.9h2.0V865.9h2.0V866.2h2.0V867.2h2.0V867.5h2.0V867.4h2.0V867.0h2.0V866.6h2.0V866.4h2.0V867.3h2.0V867.6h2.0V867.5h2.0V868.2h2.0V867.6h2.0V867.4h2.0V867.6h2.0V868.1h2.0V867.7h2.0V867.4h2.0V867.7h2.0V868.1h2.0V868.1h2.0V867.9h2.0V868.6h2.0V868.0h2.0V868.2h2.0V867.9h2.0V868.2h2.0V868.7h2.0V868.9h2.0V868.9h2.0V869.0h2.0V868.1h2.0V867.9h2.0V868.2h2.0V890.0h2.0V918.5h2.0V919.2h2.0V869.6h2.0V869.5h2.0V868.8h2.0V868.4h2.0V868.0h2.0V868.0h2.0V868.3h2.0V867.7h2.0V867.4h2.0V867.9h2.0V867.5h2.0V868.0h2.0V868.1h2.0V868.6h2.0V868.7h2.0V868.8h2.0V868.5h2.0V868.6h2.0V868.2h2.0V868.1h2.0V868.1h2.0V868.0h2.0V868.5h2.0V868.3h2.0V868.4h2.0V869.5h2.0V869.0h2.0V869.0h2.0V868.6h2.0V868.8h2.0V868.1h2.0V868.0h2.0V867.8h2.0V868.0h2.0V867.9h2.0V868.4h2.0V868.5h2.0V868.1h2.0V868.4h2.0V868.6h2.0V868.3h2.0V867.4h2.0V867.1h2.0V867.6h2.0V867.0h2.0V867.4h2.0V867.4h2.0V866.9h2.0V867.4h2.0V867.2h2.0V868.2h2.0V868.6h2.0V868.4h2.0V868.9h2.0V868.4h2.0V868.6h2.0V867.7h2.0V868.1h1.0V956.6z"/>
<path fill="#ffb6c1" d="M319.8,831.9h1.9v3.7h-1.9zM360.7,828.9h2.5v7.4h-2.5zM299.6,833.3h2.1v5.6h-2.1zM336.5,830.4h1.6v6.2h-1.6zM300.2,827.8h3.5v4.2h-3.5zM345.9,829.8h2.0v7.2h-2.0zM313.3,834.0h3.3v3.1h-3.3zM318.5,834.4h2.6v7.5h-2.6zM335.0,828.5h2.8v6.8h-2.8zM300.1,829.1h2.6v8.6h-2.6zM347.8,834.6h2.1v3.8h-2.1zM354.9,827.1h1.8v6.9h-1.8zM355.2,832.1h1.5v6.2h-1.5zM466.2,800.8h2.5v4.8h-2.5zM463.1,798.6h2.7v7.2h-2.7zM458.1,798.9h3.0v5.6h-3.0zM451.2,798.8h3.5v6.5h-3.5zM457.7,799.5h2.4v6.2h-2.4zM457.0,798.1h2.5v7.8h-2.5z"/>
<path fill="#d3d3d3" d="M462.2,801.0h2.6v5.8h-2.6zM460.0,799.6h2.6v5.7h-2.6zM457.2,798.5h2.0v5.1h-2.0zM469.3,798.9h2.2v2.2h-2.2zM457.1,800.7h3.3v4.2h-3.3zM458.4,799.8h2.1v7.1h-2.1z"/>
<path fill="#ffb6c1" d="M496.7,804.0h1.6v2.4h-1.6zM492.8,801.0h2.0v6.5h-2.0zM687.7,852.9h2.0v4.2h-2.0zM674.9,852.8h2.0v4.3h-2.0zM730.6,851.3h2.5v5.5h-2.5zM676.7,851.2h2.3v5.9h-2.3zM666.7,852.3h3.1v4.4h-3.1zM587.4,853.0h2.0v3.5h-2.0zM737.2,852.1h3.1v4.9h-3.1zM730.8,851.2h1.7v3.3h-1.7zM609.0,851.1h3.3v5.2h-3.3zM590.7,851.9h3.0v4.6h-3.0zM670.1,850.9h1.9v5.4h-1.9zM727.8,854.8h2.3v2.0h-2.3zM732.2,852.1h2.9v2.0h-2.9zM673.2,851.0h2.8v5.1h-2.8zM605.5,851.5h2.0v4.9h-2.0zM609.8,852.7h3.4v3.6h-3.4zM643.2,852.0h2.2v5.2h-2.2zM671.1,852.6h3.2v2.7h-3.2zM639.8,851.4h1.7v5.7h-1.7zM740.1,851.4h1.6v5.8h-1.6zM659.7,851.8h1.8v4.7h-1.8zM718.5,853.2h1.9v2.6h-1.9zM648.6,851.7h3.0v5.0h-3.0zM653.5,852.4h2.1v4.6h-2.1zM598.9,851.0h2.1v3.5h-2.1zM652.6,852.6h1.9v2.1h-1.9zM739.2,851.3h3.3v2.2h-3.3zM624.3,852.8h3.2v3.4h-3.2zM606.5,853.9h2.2v2.1h-2.2zM625.5,851.3h2.9v6.0h-2.9zM629.7,851.9h2.2v4.1h-2.2zM652.0,854.1h3.3v3.0h-3.3zM669.6,851.3h2.4v5.3h-2.4zM645.4,852.8h2.9v4.6h-2.9zM699.3,851.7h1.7v5.4h-1.7zM593.0,851.9h2.4v5.0h-2.4zM701.2,852.9h3.2v3.6h-3.2zM661.7,851.0h2.5v5.1h-2.5zM611.7,851.6h2.5v5.0h-2.5zM720.3,852.4h3.2v2.1h-3.2zM675.8,851.4h2.2v4.8h-2.2zM725.7,853.7h1.8v3.7h-1.8zM693.1,852.5h2.9v4.8h-2.9zM718.4,850.9h1.8v2.6h-1.8zM729.5,852.7h2.5v3.6h-2.5zM660.1,853.2h2.0v2.3h-2.0z"/>
<path fill="#ffffff" d="M619.5,836.6h2.4v6.1h-2.4zM621.0,836.2h3.2v4.0h-3.2zM623.5,835.8h3.4v8.1h-3.4zM630.5,836.7h2.2v8.2h-2.2zM620.1,838.1h3.2v6.8h-3.2zM682.0,819.4h1.8v12.9h-1.8zM733.2,822.5h2.8v7.1h-2.8zM651.6,824.0h2.8v9.2h-2.8zM722.5,831.9h2.1v13.3h-2.1zM683.6,825.5h1.8v6.5h-1.8zM647.5,826.5h1.9v13.0h-1.9zM675.6,827.9h1.8v7.8h-1.8zM688.5,833.1h3.4v12.8h-3.4zM709.3,835.0h2.0v6.3h-2.0zM717.1,824.6h2.9v10.1h-2.9zM724.3,826.6h3.4v12.9h-3.4zM738.9,826.7h3.3v9.6h-3.3zM696.8,829.8h3.4v7.8h-3.4zM729.5,821.3h2.6v14.1h-2.6zM686.2,820.9h2.9v10.3h-2.9zM717.0,825.4h3.3v15.9h-3.3zM679.3,820.6h1.7v7.9h-1.7zM687.3,820.2h2.3v8.4h-2.3zM701.4,821.7h1.8v15.4h-1.8zM694.3,822.2h2.4v8.4h-2.4zM707.9,830.4h3.0v15.2h-3.0zM697.5,830.5h3.1v10.4h-3.1zM691.2,837.1h2.2v4.9h-2.2zM727.2,820.0h2.8v4.5h-2.8zM676.2,823.8h2.5v6.1h-2.5zM733.0,826.3h2.7v12.5h-2.7zM655.3,821.8h1.6v4.5h-1.6zM661.7,835.6h1.9v7.6h-1.9zM723.7,822.1h2.2v9.8h-2.2zM694.2,840.0h2.5v4.5h-2.5zM708.6,828.7h2.6v7.6h-2.6zM716.3,832.7h2.5v11.6h-2.5zM725.2,826.9h3.5v15.5h-3.5zM666.1,836.5h3.1v6.3h-3.1zM719.7,822.0h2.4v4.2h-2.4zM665.5,828.9h2.0v15.1h-2.0zM684.3,826.6h2.0v13.5h-2.0zM667.1,828.7h2.9v12.6h-2.9zM723.4,822.0h1.8v6.9h-1.8zM703.8,822.7h2.3v5.4h-2.3zM690.5,824.6h2.2v15.7h-2.2zM657.4,831.3h1.6v7.2h-1.6zM661.0,834.5h1.8v6.1h-1.8zM677.5,824.3h2.8v7.5h-2.8zM659.9,821.4h2.6v10.8h-2.6zM711.7,822.4h2.8v7.4h-2.8zM731.2,830.9h1.7v4.8h-1.7zM709.1,823.0h1.5v8.3h-1.5zM697.9,832.2h3.2v4.1h-3.2zM700.5,820.4h1.9v15.8h-1.9zM713.1,838.0h3.0v4.3h-3.0zM653.2,837.9h2.8v4.3h-2.8zM736.8,835.1h3.2v7.2h-3.2zM648.3,823.0h1.7v14.6h-1.7zM706.9,814.4h1.9v5.7h-1.9zM718.9,816.1h3.4v5.7h-3.4zM705.9,816.3h3.3v8.5h-3.3zM683.2,817.1h2.6v7.6h-2.6zM741.2,815.8h2.8v7.7h-2.8zM696.4,817.9h3.0v5.3h-3.0zM742.1,813.7h2.0v12.0h-2.0zM725.7,818.5h2.9v6.2h-2.9zM717.7,814.8h2.4v8.5h-2.4zM708.9,817.9h1.6v5.5h-1.6zM682.7,816.3h3.2v6.1h-3.2zM706.1,817.7h1.8v6.1h-1.8zM704.9,817.2h1.7v5.4h-1.7zM711.6,816.1h1.9v9.3h-1.9zM677.1,815.3h3.4v9.0h-3.4zM676.3,817.6h2.0v6.2h-2.0zM687.3,819.2h2.8v6.2h-2.8zM688.4,815.8h2.6v9.6h-2.6zM678.8,815.5h2.9v8.1h-2.9zM727.4,814.8h1.5v5.7h-1.5zM796.4,818.7h1.9v6.7h-1.9zM749.3,822.5h2.3v8.3h-2.3zM763.5,828.6h1.6v6.6h-1.6zM763.6,820.4h2.4v6.4h-2.4zM782.4,821.0h1.8v6.5h-1.8zM787.2,821.0h2.0v4.3h-2.0zM796.4,821.0h2.0v10.8h-2.0zM786.2,816.9h1.6v10.7h-1.6zM771.2,818.1h2.1v10.7h-2.1zM311.1,832.2h3.5v6.1h-3.5zM300.4,824.5h3.5v11.1h-3.5zM364.0,825.1h1.9v10.6h-1.9zM301.1,830.3h2.8v10.8h-2.8zM352.6,829.6h2.1v7.7h-2.1zM340.7,826.3h2.8v4.6h-2.8zM342.2,828.0h3.1v11.7h-3.1zM346.5,826.2h3.5v12.3h-3.5zM303.5,824.5h1.5v14.0h-1.5zM328.9,825.1h2.7v13.9h-2.7zM323.8,828.5h1.5v5.6h-1.5zM366.6,828.9h2.0v12.8h-2.0zM310.2,827.3h1.9v11.0h-1.9z"/>
<path fill="#ffb6c1" d="M325.1,991.0h2.5v4.2h-2.5zM321.7,989.8h3.1v7.4h-3.1zM329.2,990.3h1.7v7.6h-1.7zM326.4,990.1h2.8v7.3h-2.8z"/>
<path fill="#ffffff" d="M355.4,855.2h1.7v1.6h-1.7zM354.6,851.5h2.2v1.7h-2.2zM357.6,848.0h1.9v2.4h-1.9zM350.5,869.6h2.3v1.6h-2.3zM357.4,849.0h1.6v2.8h-1.6zM357.6,860.6h2.2v2.5h-2.2zM351.4,877.6h1.9v2.8h-1.9zM356.6,871.7h1.9v2.1h-1.9zM358.2,856.6h1.7v2.5h-1.7zM355.4,856.2h2.1v2.5h-2.1zM354.7,853.9h1.9v1.8h-1.9zM355.6,846.8h2.3v1.6h-2.3zM352.1,844.1h2.4v2.7h-2.4zM358.1,874.0h1.7v1.8h-1.7zM354.3,859.3h1.5v1.5h-1.5zM356.5,845.6h2.1v2.8h-2.1zM353.0,846.3h2.5v2.2h-2.5zM351.6,863.0h1.7v1.8h-1.7zM350.0,842.9h1.8v1.9h-1.8zM352.9,845.5h2.4v2.2h-2.4zM355.7,841.8h2.5v1.5h-2.5z"/>
<path fill="#ffb6c1" d="M919.4,816.4h2.1v5.4h-2.1zM917.7,812.3h2.6v6.9h-2.6zM919.3,811.2h2.0v5.4h-2.0zM1006.8,852.4h1.8v2.4h-1.8zM1046.1,815.4h3.4v7.2h-3.4zM1101.4,816.4h2.5v5.0h-2.5zM1050.4,818.6h2.1v3.3h-2.1zM1072.9,815.6h2.5v8.1h-2.5zM1056.4,815.8h2.2v6.6h-2.2zM1038.9,816.3h1.6v5.7h-1.6zM1107.6,813.1h2.6v9.4h-2.6zM1105.5,816.2h2.4v5.1h-2.4zM1102.4,818.1h2.3v3.4h-2.3zM1103.7,817.3h3.4v4.3h-3.4zM1101.5,816.1h2.6v6.1h-2.6zM1061.4,814.3h3.4v9.5h-3.4zM1106.1,814.8h2.4v9.3h-2.4zM1088.9,816.7h2.2v5.2h-2.2zM1089.2,816.1h2.7v6.6h-2.7z"/>
<path fill="#ffffff" d="M837.0,820.5h2.5v11.9h-2.5zM841.0,818.4h2.0v14.3h-2.0zM828.8,819.6h3.1v7.0h-3.1zM831.3,819.0h2.6v13.9h-2.6zM826.5,827.6h3.2v5.4h-3.2zM838.9,818.6h2.5v12.8h-2.5zM840.9,818.4h1.5v13.7h-1.5zM887.8,825.5h2.8v4.1h-2.8zM860.2,818.3h3.5v9.5h-3.5zM868.8,820.8h2.5v10.9h-2.5zM854.9,820.8h1.9v5.2h-1.9zM856.4,818.3h2.4v11.5h-2.4zM854.6,818.8h3.0v11.5h-3.0zM847.9,824.5h2.3v4.5h-2.3zM882.1,822.8h2.0v5.9h-2.0zM878.7,825.2h2.6v9.2h-2.6zM878.0,817.1h3.4v4.9h-3.4zM849.7,818.6h1.7v6.0h-1.7zM935.3,840.7h2.0v17.4h-2.0zM933.1,836.1h2.6v16.5h-2.6zM932.2,854.2h2.4v8.8h-2.4zM933.5,846.9h1.9v10.5h-1.9zM932.6,850.8h2.1v11.5h-2.1zM1075.9,832.7h1.6v8.2h-1.6zM895.2,824.3h3.1v4.9h-3.1zM894.1,828.2h5.6v7.9h-5.6zM895.7,832.1h5.8v5.0h-5.8zM893.7,839.8h5.1v5.7h-5.1zM895.5,843.7h3.4v7.8h-3.4zM895.2,847.6h5.7v6.4h-5.7zM897.6,851.4h5.3v7.7h-5.3zM897.3,855.3h3.8v6.8h-3.8zM896.5,866.9h3.0v6.7h-3.0zM898.5,874.6h5.7v6.9h-5.7zM899.3,878.5h3.8v5.9h-3.8zM896.6,882.4h5.8v7.7h-5.8zM899.5,886.2h6.6v7.6h-6.6zM899.5,894.0h5.4v5.8h-5.4zM898.7,897.8h7.0v6.2h-7.0zM899.6,901.7h6.5v7.3h-6.5zM899.1,909.5h3.0v4.5h-3.0zM900.4,913.3h3.4v5.9h-3.4zM900.3,917.2h7.4v5.4h-7.4zM899.9,921.1h3.7v6.3h-3.7zM899.7,924.9h4.5v6.9h-4.5zM900.6,932.7h7.8v6.3h-7.8zM903.8,936.5h6.3v5.0h-6.3zM904.5,948.1h6.2v4.9h-6.2zM902.0,952.0h6.9v5.6h-6.9zM904.7,955.9h4.7v4.7h-4.7zM901.9,959.7h6.0v5.8h-6.0zM905.4,963.6h6.5v4.2h-6.5zM905.4,971.3h6.9v4.7h-6.9zM903.0,975.2h7.1v7.8h-7.1zM814.1,841.7h1.5v110.0h-1.5zM956.5,835.2h1.5v45.0h-1.5z"/>
<path fill="#ffb6c1" d="M905.8,986.5h2.6v6.7h-2.6zM906.1,980.9h2.4v4.0h-2.4zM893.8,981.4h1.9v8.0h-1.9zM898.3,979.2h2.6v3.7h-2.6zM897.1,980.7h2.8v2.5h-2.8zM900.3,979.3h2.9v3.5h-2.9zM904.9,982.1h2.6v4.4h-2.6zM894.3,985.4h2.1v8.1h-2.1zM895.6,987.5h2.5v4.0h-2.5zM897.4,986.1h1.6v2.1h-1.6zM899.0,987.7h2.0v7.0h-2.0zM905.2,987.0h2.7v7.0h-2.7zM801.1,991.5h2.9v5.9h-2.9zM811.0,991.7h2.6v2.3h-2.6zM806.6,992.7h3.4v4.9h-3.4zM806.2,988.9h3.4v7.4h-3.4zM929.5,992.0h3.0v8.3h-3.0zM926.6,992.5h2.6v5.9h-2.6zM924.3,991.7h2.0v8.9h-2.0z"/>
<path fill="#ffffff" d="M1498.7,831.7h1.9v13.8h-1.9zM1514.4,838.3h1.7v12.1h-1.7zM1366.7,841.8h2.9v11.2h-2.9zM1438.9,850.5h3.2v6.0h-3.2zM1532.7,829.1h3.5v13.8h-3.5zM1401.5,841.6h3.3v13.9h-3.3zM1544.3,828.0h3.1v15.0h-3.1zM1396.3,832.4h1.8v13.7h-1.8zM1442.4,833.3h3.1v14.0h-3.1zM1489.2,831.5h2.9v15.9h-2.9zM1486.4,843.9h2.0v6.2h-2.0zM1485.0,836.5h1.9v12.9h-1.9zM1363.7,838.1h2.6v8.9h-2.6zM1559.9,836.7h2.8v14.7h-2.8zM1445.9,842.1h1.8v14.3h-1.8zM1371.3,827.8h3.4v5.1h-3.4zM1488.4,833.2h2.9v9.9h-2.9zM1403.0,845.1h2.7v5.1h-2.7zM1494.2,851.2h2.0v5.4h-2.0zM1506.4,826.6h3.4v14.6h-3.4zM1470.2,842.8h1.8v11.0h-1.8zM1375.5,840.8h1.6v11.5h-1.6zM1519.7,846.8h1.7v9.8h-1.7zM1421.7,837.4h3.1v13.4h-3.1zM1482.7,835.6h2.6v9.9h-2.6zM1493.5,843.4h2.3v13.2h-2.3zM1383.1,835.0h3.4v13.6h-3.4zM1547.3,829.9h2.5v13.5h-2.5zM1561.8,831.9h1.5v14.4h-1.5zM1439.3,840.4h2.7v8.6h-2.7zM1435.4,834.2h2.9v14.8h-2.9zM1466.8,839.9h2.4v15.8h-2.4zM1518.2,829.4h3.4v4.3h-3.4zM1376.8,837.4h2.5v11.6h-2.5zM1471.0,835.3h2.9v8.2h-2.9zM1554.4,841.4h1.8v7.1h-1.8zM1532.2,839.2h2.6v13.7h-2.6zM1426.8,827.8h2.3v10.5h-2.3zM1436.7,848.2h3.3v5.0h-3.3zM1365.0,828.8h2.1v14.9h-2.1zM1523.4,843.4h2.4v11.6h-2.4zM1563.4,827.6h3.1v6.2h-3.1zM1365.6,831.0h2.4v8.2h-2.4zM1431.0,841.3h3.5v15.6h-3.5zM1484.0,831.9h3.0v4.4h-3.0zM1403.3,832.8h2.1v12.6h-2.1zM1423.2,829.1h1.5v7.9h-1.5zM1377.5,846.7h1.7v8.9h-1.7zM1373.8,844.4h2.0v8.4h-2.0zM1437.0,849.8h1.9v4.9h-1.9zM1479.2,828.0h3.3v9.6h-3.3zM1411.0,841.1h3.3v13.0h-3.3zM1419.6,838.2h1.8v9.8h-1.8zM1413.2,826.8h2.0v10.5h-2.0zM1452.8,835.2h1.7v13.5h-1.7zM1399.2,836.1h2.8v7.1h-2.8zM1454.7,837.2h3.0v12.8h-3.0zM1492.2,838.6h2.0v15.4h-2.0zM1506.5,836.9h2.2v10.9h-2.2zM1521.2,833.9h3.0v7.3h-3.0zM1443.4,848.4h2.5v5.7h-2.5zM1472.4,842.4h1.6v6.3h-1.6zM1508.0,837.5h2.9v12.2h-2.9zM1418.4,826.6h1.8v10.5h-1.8zM1456.3,837.7h2.5v15.7h-2.5zM1473.1,852.2h2.7v4.4h-2.7zM1546.0,841.8h2.8v7.6h-2.8zM1479.8,834.1h3.4v14.2h-3.4zM1535.6,829.4h2.6v7.8h-2.6zM1450.4,840.1h3.5v8.1h-3.5zM1371.9,843.2h2.1v11.3h-2.1zM1537.4,839.1h1.7v14.5h-1.7zM1476.9,828.0h3.0v6.2h-3.0zM1403.7,834.0h3.0v13.5h-3.0zM1504.4,827.6h1.7v12.0h-1.7zM1397.2,840.9h2.7v14.5h-2.7zM1377.9,846.4h2.0v4.2h-2.0zM1450.3,827.9h1.9v14.3h-1.9zM1387.5,826.6h3.1v7.9h-3.1zM1462.5,838.7h2.1v9.5h-2.1zM1543.3,837.7h1.7v4.0h-1.7zM1482.3,838.2h2.9v14.7h-2.9zM1466.2,850.1h1.9v6.5h-1.9zM1490.1,833.4h3.4v6.8h-3.4zM1565.1,835.4h2.2v7.4h-2.2zM1534.6,828.7h2.4v5.0h-2.4zM1408.8,827.5h3.2v6.9h-3.2zM1434.9,831.5h2.2v15.5h-2.2zM1515.6,849.4h3.0v6.8h-3.0zM1520.4,847.0h3.2v4.5h-3.2zM1382.5,839.7h3.1v10.9h-3.1zM1517.9,830.3h2.7v9.8h-2.7zM1544.8,845.2h2.3v11.6h-2.3zM1446.9,838.7h3.3v7.2h-3.3zM1435.8,850.2h2.4v4.9h-2.4zM1543.7,834.7h2.3v14.6h-2.3z"/>
<path fill="#d3d3d3" d="M1479.3,836.4h3.3v8.8h-3.3zM1484.2,836.2h3.4v4.2h-3.4zM1487.5,838.2h3.3v5.9h-3.3zM1486.9,837.6h3.3v5.6h-3.3zM1489.0,836.2h2.2v8.8h-2.2zM1479.8,837.3h1.7v6.5h-1.7zM1482.6,836.6h1.9v4.7h-1.9zM1482.9,841.0h2.4v2.8h-2.4zM1485.6,835.8h1.7v7.9h-1.7zM1535.6,835.2h3.0v4.6h-3.0zM1540.0,841.0h1.9v8.6h-1.9zM1529.3,851.7h2.7v2.6h-2.7zM1550.5,840.3h2.8v4.2h-2.8zM1550.5,839.2h2.4v7.5h-2.4zM1532.5,844.6h3.5v3.5h-3.5zM1538.8,847.7h2.6v5.8h-2.6zM1545.5,850.1h2.0v5.0h-2.0zM1539.2,839.8h2.0v4.5h-2.0zM1531.8,846.2h2.5v8.6h-2.5zM1535.1,837.1h3.3v5.4h-3.3zM1536.2,838.7h2.6v7.9h-2.6zM1541.4,849.5h3.2v3.1h-3.2zM1542.8,841.2h2.5v4.1h-2.5zM1548.7,846.2h2.8v7.6h-2.8zM1545.4,846.6h1.7v3.9h-1.7zM1526.6,836.4h3.3v5.1h-3.3zM1534.8,835.8h1.6v5.8h-1.6zM1535.0,850.2h3.3v2.5h-3.3zM1553.4,843.4h2.9v3.5h-2.9zM1543.8,851.3h3.1v5.0h-3.1zM1543.1,850.5h1.6v6.0h-1.6zM1528.9,845.1h2.7v3.8h-2.7zM1554.3,838.4h1.8v4.5h-1.8zM1540.2,848.9h1.9v6.7h-1.9zM1614.3,827.9h2.2v7.3h-2.2zM1610.2,826.8h3.3v3.4h-3.3zM1637.5,823.2h2.4v6.1h-2.4zM1613.7,823.6h2.8v7.8h-2.8zM1589.4,823.6h2.0v6.3h-2.0zM1642.1,825.6h2.1v6.8h-2.1zM1584.3,830.7h1.8v4.5h-1.8zM1599.9,823.6h2.4v7.9h-2.4zM1637.5,826.8h1.8v4.7h-1.8z"/>
<path fill="#ffb6c1" d="M1666.1,813.1h2.0v27.9h-2.0zM1670.1,817.5h2.0v23.5h-2.0zM1672.1,818.5h0.5v22.4h-0.5zM1703.0,831.7h3.2v7.6h-3.2zM1704.3,814.2h3.5v17.8h-3.5zM1708.9,836.4h1.5v6.5h-1.5zM1710.4,825.7h3.0v7.4h-3.0zM1704.6,820.1h1.8v5.7h-1.8zM1728.9,818.9h1.6v17.7h-1.6zM1723.9,820.3h2.4v12.2h-2.4zM1706.8,820.5h3.3v17.4h-3.3zM1727.7,823.7h3.4v9.0h-3.4zM1710.5,829.0h2.8v6.2h-2.8zM1710.9,820.3h1.9v17.6h-1.9zM1719.4,828.8h3.1v9.1h-3.1zM1708.7,825.4h3.1v9.1h-3.1zM1715.8,827.8h2.4v11.1h-2.4zM1702.6,824.7h1.8v7.8h-1.8zM1705.0,818.8h1.9v17.1h-1.9zM1734.5,817.2h3.0v8.7h-3.0zM1769.7,815.5h2.9v9.5h-2.9zM1745.1,817.7h2.1v11.4h-2.1zM1762.6,819.0h1.7v11.6h-1.7zM1745.8,818.3h3.5v13.1h-3.5zM1750.9,824.7h2.1v6.2h-2.1zM1732.5,833.6h3.1v6.0h-3.1zM1767.5,816.6h2.2v14.4h-2.2zM1778.0,811.3h1.9v15.1h-1.9zM1783.6,811.9h1.5v12.6h-1.5zM1801.5,810.7h1.9v17.0h-1.9zM1779.6,813.5h2.1v9.4h-2.1zM1750.0,861.0h3.4v2.1h-3.4zM1762.5,858.2h2.7v4.3h-2.7zM1745.1,859.0h1.8v8.4h-1.8zM1763.2,863.7h3.4v3.2h-3.4zM1742.6,857.3h2.2v8.4h-2.2zM1767.2,857.3h3.5v5.7h-3.5zM1762.1,861.4h2.8v5.4h-2.8zM1745.1,859.2h2.9v7.3h-2.9zM1743.9,858.2h3.1v7.2h-3.1zM1760.8,854.7h1.5v8.8h-1.5zM1756.9,863.0h2.7v4.2h-2.7z"/>
<path fill="#d3d3d3" d="M1721.6,835.7h3.2v8.9h-3.2zM1697.8,841.2h2.5v3.1h-2.5zM1703.7,836.5h3.4v7.8h-3.4zM1727.7,840.4h1.9v4.3h-1.9zM1724.8,836.8h1.5v7.5h-1.5zM1726.0,836.3h1.8v4.5h-1.8zM1703.2,836.4h1.8v5.3h-1.8zM1700.5,837.8h1.8v3.5h-1.8zM1703.5,838.0h2.2v3.0h-2.2zM1698.3,839.4h1.6v4.1h-1.6zM1701.9,838.3h1.7v5.3h-1.7zM1699.8,835.8h3.4v6.9h-3.4zM1699.8,836.4h1.8v8.2h-1.8zM1712.8,836.0h3.0v7.8h-3.0zM1715.4,837.5h2.2v6.6h-2.2zM1719.8,835.7h2.4v7.9h-2.4zM1732.2,835.5h2.3v3.6h-2.3z"/>
<path fill="#ffffff" d="M1709.0,845.2h2.3v5.1h-2.3zM1686.8,846.1h2.8v3.7h-2.8zM1672.4,844.3h1.6v8.0h-1.6zM1707.8,844.7h2.9v7.6h-2.9zM1690.4,845.3h2.4v5.7h-2.4zM1733.6,845.2h2.7v7.0h-2.7zM1705.6,845.5h2.7v4.0h-2.7zM1693.2,845.1h3.2v6.8h-3.2zM1673.4,846.3h3.3v5.2h-3.3zM1725.8,845.8h2.3v3.6h-2.3zM1685.1,845.5h1.9v5.6h-1.9zM1707.9,844.8h2.4v7.7h-2.4zM1729.1,845.0h3.2v7.6h-3.2zM1715.6,845.2h3.1v6.9h-3.1zM1730.4,847.5h2.8v4.0h-2.8zM1681.0,845.4h2.0v5.7h-2.0zM1668.8,847.1h2.8v3.7h-2.8zM1670.1,844.9h2.7v7.5h-2.7zM1722.9,844.9h1.7v7.6h-1.7zM1686.3,905.9h1.6v2.0h-1.6zM1374.5,877.4h1.6v1.5h-1.6zM1833.7,889.4h1.6v1.4h-1.6zM1711.1,929.0h1.2v2.0h-1.2zM1717.7,945.4h1.6v2.3h-1.6zM1580.5,881.8h1.8v1.5h-1.8zM1597.3,895.9h1.7v1.7h-1.7zM1745.4,894.2h1.3v1.9h-1.3zM1688.1,911.8h1.3v1.9h-1.3zM1765.8,916.0h1.9v2.3h-1.9zM1628.8,881.6h2.0v1.9h-2.0zM1488.6,887.7h1.5v1.6h-1.5zM1650.8,902.1h1.3v1.3h-1.3zM1858.7,943.5h1.8v2.1h-1.8zM1857.4,870.8h1.3v2.0h-1.3zM1439.7,947.5h1.3v1.2h-1.3zM1342.5,873.0h1.9v1.4h-1.9zM1658.1,895.3h1.9v1.6h-1.9zM1865.2,869.2h1.5v2.0h-1.5zM1779.5,918.6h1.5v2.1h-1.5zM1467.9,913.2h1.4v1.2h-1.4zM1673.3,897.2h1.9v1.9h-1.9zM1604.7,919.8h1.8v2.4h-1.8zM1846.3,870.1h1.6v1.5h-1.6zM1659.6,897.7h1.5v2.3h-1.5zM1757.8,923.7h1.4v1.6h-1.4zM1545.8,888.4h1.7v2.3h-1.7zM1734.4,938.7h1.7v2.3h-1.7zM1696.1,885.3h1.9v1.2h-1.9zM1789.5,880.2h1.7v2.1h-1.7zM1802.6,925.9h1.5v1.4h-1.5zM1751.3,903.5h1.6v1.9h-1.6zM1772.3,906.9h1.3v2.3h-1.3zM1470.6,868.3h1.6v1.4h-1.6zM1486.3,880.6h1.7v2.2h-1.7zM1762.7,885.3h1.5v1.5h-1.5zM1819.9,926.4h1.4v1.7h-1.4zM1368.8,922.8h1.3v1.4h-1.3zM1497.7,938.9h1.7v1.4h-1.7zM1802.8,921.0h1.2v2.1h-1.2zM1855.0,912.5h1.5v2.1h-1.5zM1858.9,949.3h1.7v1.9h-1.7zM1409.2,906.5h1.7v1.8h-1.7zM1611.2,884.7h1.5v2.0h-1.5zM1659.0,931.1h1.4v2.1h-1.4zM1405.0,878.7h1.4v1.7h-1.4zM1872.5,872.8h1.5v1.5h-1.5zM1834.5,872.7h1.6v1.3h-1.6zM1540.0,872.2h1.9v1.6h-1.9zM1713.0,910.8h1.7v1.3h-1.7zM1736.0,869.2h1.4v2.0h-1.4zM1785.6,944.5h1.9v2.3h-1.9zM1581.0,944.8h1.5v1.4h-1.5zM1759.1,935.1h1.7v1.3h-1.7zM1826.6,900.8h1.6v2.0h-1.6zM1778.4,938.1h1.8v1.9h-1.8zM1667.7,894.3h1.3v1.4h-1.3zM1587.6,952.1h1.4v1.2h-1.4zM1548.0,916.6h1.5v1.5h-1.5zM1633.4,895.8h1.2v1.4h-1.2zM1375.0,944.4h1.8v1.4h-1.8zM1676.6,880.4h1.8v2.0h-1.8zM1721.8,904.3h1.3v1.7h-1.3zM1869.6,884.7h1.6v1.3h-1.6zM1868.7,895.8h1.5v2.2h-1.5zM1612.7,873.9h1.6v2.2h-1.6zM1341.6,869.1h1.4v1.6h-1.4zM1802.4,890.1h1.9v2.2h-1.9zM1369.1,901.4h1.5v2.3h-1.5zM1722.7,950.9h1.5v2.1h-1.5z"/>
<path fill="#d3d3d3" d="M1886.5,827.9h3.4v6.2h-3.4zM1807.9,836.1h1.9v5.6h-1.9zM1854.1,831.3h3.1v2.7h-3.1zM1845.9,816.5h3.0v3.0h-3.0zM1818.5,824.1h2.4v4.5h-2.4zM1839.5,815.6h2.5v2.8h-2.5zM1834.0,813.6h2.9v2.3h-2.9zM1865.8,823.4h3.1v8.6h-3.1zM1784.2,821.7h2.4v7.3h-2.4zM1831.0,823.0h2.5v3.2h-2.5zM1828.6,816.5h1.8v6.1h-1.8zM1844.5,822.0h2.6v3.6h-2.6zM1775.1,821.6h2.9v6.2h-2.9zM1868.9,836.0h3.0v4.4h-3.0zM1826.7,824.6h3.4v7.3h-3.4zM1807.1,834.5h1.7v4.1h-1.7zM1868.0,823.8h3.1v6.4h-3.1zM1776.5,827.0h2.8v4.5h-2.8zM1884.9,823.1h3.3v5.5h-3.3zM1827.8,821.9h2.0v3.1h-2.0zM1892.5,834.0h1.7v4.2h-1.7zM1835.8,822.4h2.3v3.6h-2.3z"/>
<path fill="#ffb6c1" d="M1984.3,862.1h2.0v9.2h-2.0zM1986.3,862.8h2.0v6.1h-2.0zM1988.3,861.1h2.0v8.0h-2.0zM1990.3,861.3h2.0v7.8h-2.0zM1992.3,858.1h2.0v11.0h-2.0zM1994.3,863.2h2.0v6.9h-2.0zM1996.3,860.9h2.0v12.3h-2.0zM1998.3,861.0h2.0v10.6h-2.0zM2000.3,860.7h2.0v10.3h-2.0zM2002.3,860.0h2.0v10.7h-2.0zM2004.3,861.5h2.0v7.9h-2.0zM2006.3,859.1h2.0v10.1h-2.0zM2008.3,862.7h2.0v7.7h-2.0zM2010.3,863.6h2.0v3.9h-2.0zM2012.3,865.7h2.0v2.1h-2.0zM2014.3,865.3h2.0v4.3h-2.0zM2016.3,865.8h2.0v4.7h-2.0zM2018.3,863.9h2.0v6.9h-2.0zM2020.3,866.4h2.0v5.8h-2.0zM2022.3,863.6h2.0v6.9h-2.0zM2024.3,861.0h2.0v12.1h-2.0zM2026.3,862.5h2.0v9.2h-2.0zM2028.3,863.5h2.0v5.3h-2.0zM2030.3,864.8h2.0v5.4h-2.0zM2032.3,865.8h2.0v5.5h-2.0zM2034.3,865.1h2.0v6.5h-2.0zM2036.3,864.0h2.0v3.7h-2.0zM2038.3,862.6h2.0v3.9h-2.0zM2040.3,864.3h2.0v6.3h-2.0zM2042.3,864.1h2.0v4.4h-2.0zM2044.3,862.7h2.0v3.8h-2.0zM2046.3,862.7h2.0v5.2h-2.0zM2048.3,864.3h2.0v5.5h-2.0zM2050.3,862.9h1.4v7.3h-1.4zM2052.2,845.2h4.0v85.0h-4.0zM2182.6,881.8h2.9v17.2h-2.9zM2184.8,876.1h2.6v23.8h-2.6zM2164.8,887.2h1.7v18.6h-1.7zM2162.8,879.5h2.2v15.8h-2.2zM2166.4,880.3h2.2v13.8h-2.2zM2210.2,893.0h2.9v10.7h-2.9zM2221.0,883.1h1.5v26.0h-1.5zM2090.2,836.4h1.6v5.9h-1.6zM2080.0,845.2h2.7v12.6h-2.7zM2084.5,837.6h2.4v11.0h-2.4zM2069.9,849.5h2.0v11.4h-2.0zM2061.0,851.1h2.3v17.6h-2.3zM2056.3,840.8h1.5v15.6h-1.5z"/>
<path fill="#d3d3d3" d="M1895.3,809.3h2.3v8.4h-2.3zM1905.0,811.3h3.1v5.4h-3.1zM1898.4,811.7h3.1v3.8h-3.1zM1907.1,808.4h3.0v8.9h-3.0z"/>
<path fill="#ffb6c1" d="M1908.6,810.1h2.7v7.0h-2.7z"/>
<path fill="#d3d3d3" d="M1891.6,851.7h1.8v3.6h-1.8zM1888.3,844.4h2.1v7.7h-2.1zM1895.5,842.2h3.2v8.9h-3.2zM1886.0,836.8h1.8v8.0h-1.8zM1892.6,838.1h3.2v5.7h-3.2zM1903.4,840.6h3.3v6.8h-3.3zM1882.6,835.5h2.5v5.6h-2.5zM1903.4,847.5h2.7v4.5h-2.7zM1886.7,843.7h2.8v6.0h-2.8zM1892.8,836.4h2.8v3.8h-2.8zM1886.0,846.3h2.8v5.0h-2.8zM1880.2,845.2h3.1v3.5h-3.1zM1901.7,846.1h3.4v2.6h-3.4zM1890.9,836.0h2.9v2.1h-2.9zM1899.3,842.2h3.4v8.9h-3.4z"/>
<path fill="#ffffff" d="M2502.9,857.4h3.0v5.0h-3.0zM2446.8,864.9h2.4v4.1h-2.4zM2487.7,859.4h1.9v8.0h-1.9zM2494.2,854.2h2.4v9.5h-2.4zM2485.3,857.6h2.3v8.6h-2.3zM2464.5,862.5h1.6v6.0h-1.6zM2477.1,855.9h2.7v6.2h-2.7zM2496.1,855.7h3.4v9.6h-3.4zM2453.2,858.6h1.8v10.3h-1.8zM2477.3,856.8h3.0v10.9h-3.0zM2449.4,853.3h1.6v6.2h-1.6zM2472.7,854.6h2.6v4.5h-2.6zM2504.2,857.0h1.9v10.4h-1.9zM2468.3,863.3h2.7v5.4h-2.7zM2457.2,854.9h1.6v7.0h-1.6zM2463.2,860.0h1.8v9.9h-1.8zM2464.7,858.6h2.1v9.7h-2.1zM2655.9,858.3h1.6v11.9h-1.6zM2664.7,854.6h2.1v4.1h-2.1zM2649.7,860.1h3.1v5.7h-3.1zM2669.6,853.1h2.7v9.1h-2.7zM2670.1,852.7h3.3v10.5h-3.3zM2675.2,856.4h2.1v5.6h-2.1zM2670.4,854.3h2.3v5.7h-2.3zM2659.2,854.8h2.4v10.0h-2.4zM2670.1,864.0h2.5v5.5h-2.5z"/>
<path fill="#ffb6c1" d="M2663.5,852.8h2.0v6.7h-2.0zM2670.4,856.1h3.2v19.3h-3.2zM2669.0,861.8h2.7v11.1h-2.7zM2655.4,859.7h3.2v10.1h-3.2zM2668.5,866.1h1.6v10.4h-1.6zM2677.3,858.8h2.7v19.8h-2.7zM2656.5,863.4h3.3v10.6h-3.3zM2678.3,861.9h3.0v11.7h-3.0zM2445.0,840.8h3.1v2.0h-3.1zM2437.1,835.6h2.0v7.9h-2.0zM2434.4,833.6h3.2v7.8h-3.2zM2438.7,840.0h2.6v3.7h-2.6zM2386.8,911.4h3.3v10.8h-3.3zM2405.4,901.6h2.6v8.2h-2.6zM2403.1,898.5h1.7v23.0h-1.7zM2406.3,901.6h2.7v24.0h-2.7zM2392.1,900.9h3.2v23.9h-3.2z"/>
<path fill="#d3d3d3" d="M2860.2,842.9h3.2v7.7h-3.2zM2949.9,842.3h3.0v8.5h-3.0zM2831.1,841.8h1.9v4.4h-1.9z"/>
<path fill="#ffb6c1" d="M3137.1,898.4h2.1v8.1h-2.1zM3113.1,903.7h2.5v2.8h-2.5zM3128.4,899.0h2.1v6.6h-2.1zM3093.9,898.6h2.4v7.0h-2.4zM3097.6,903.3h2.0v2.4h-2.0zM3090.5,900.1h3.0v4.8h-3.0zM3130.6,898.9h2.1v6.4h-2.1zM3130.6,898.7h2.2v7.8h-2.2zM3087.8,898.4h2.2v8.5h-2.2zM3093.4,903.1h2.9v2.4h-2.9zM3117.0,903.3h3.4v2.7h-3.4zM3131.1,898.1h2.8v8.5h-2.8zM3097.8,898.5h1.7v8.2h-1.7zM3124.7,898.9h3.4v4.7h-3.4zM3518.3,915.9h2.5v2.9h-2.5zM3518.9,922.0h2.4v2.2h-2.4zM3555.0,918.8h2.2v3.6h-2.2z"/>
<path fill="#d3d3d3" d="M3477.7,846.9h1.9v1.3h-1.9zM3399.1,849.3h2.2v1.6h-2.2zM3413.8,847.4h1.5v1.3h-1.5zM3562.2,831.9h1.7v1.7h-1.7zM3447.7,864.1h1.6v2.1h-1.6zM3623.6,848.4h1.6v2.0h-1.6zM3633.9,859.3h1.5v2.1h-1.5zM3617.4,840.9h1.6v1.3h-1.6zM3577.3,843.2h1.3v2.0h-1.3zM3553.9,860.4h2.2v2.9h-2.2zM3555.3,839.3h1.9v1.4h-1.9zM3502.6,854.4h2.2v2.8h-2.2zM3551.4,862.2h1.3v2.2h-1.3zM3576.6,852.0h1.3v1.6h-1.3zM3404.4,859.9h1.7v2.9h-1.7zM3550.9,832.0h1.3v1.6h-1.3zM3584.7,851.4h2.1v1.8h-2.1zM3615.7,857.5h1.5v2.6h-1.5zM3403.6,845.9h1.3v2.0h-1.3zM3603.0,856.2h1.5v2.2h-1.5zM3507.4,845.1h2.2v1.3h-2.2zM3388.6,859.8h2.1v2.8h-2.1zM3541.1,849.4h1.6v1.3h-1.6zM3503.2,857.1h2.4v2.6h-2.4zM3465.8,853.0h2.3v2.1h-2.3zM3540.5,835.8h2.2v2.5h-2.2zM3566.7,846.2h2.1v2.3h-2.1zM3534.5,835.7h1.2v1.7h-1.2zM3422.3,840.1h1.6v1.9h-1.6zM3565.9,833.7h1.7v2.8h-1.7zM3386.8,854.6h1.7v2.7h-1.7zM3390.2,841.1h2.1v1.7h-2.1zM3405.8,835.9h1.6v2.4h-1.6zM3534.7,843.5h2.1v1.3h-2.1zM3471.7,858.1h1.6v1.9h-1.6zM3556.9,859.7h2.3v2.2h-2.3zM3393.5,856.7h1.3v2.0h-1.3zM3491.8,852.4h2.3v1.4h-2.3zM3488.5,842.3h1.8v1.3h-1.8zM3406.3,848.7h1.9v2.8h-1.9zM3434.7,846.1h1.8v1.9h-1.8zM3460.2,860.5h1.3v2.4h-1.3zM3433.6,856.0h1.5v1.6h-1.5zM3515.0,852.1h2.2v2.8h-2.2zM3414.9,860.7h1.6v2.2h-1.6zM3412.4,848.2h1.7v2.1h-1.7zM3405.3,842.3h1.4v3.0h-1.4zM3512.0,832.6h1.3v1.6h-1.3zM3577.4,842.1h2.0v2.3h-2.0zM3557.9,865.1h2.0v1.8h-2.0zM3585.6,838.8h1.4v2.4h-1.4zM3514.2,851.6h1.3v2.1h-1.3zM3587.3,855.4h2.1v1.8h-2.1zM3499.6,860.7h1.5v1.6h-1.5zM3518.2,847.5h2.3v2.2h-2.3zM3562.9,848.7h2.1v1.2h-2.1zM3413.7,847.8h1.9v2.7h-1.9zM3539.9,840.0h2.3v1.6h-2.3zM3421.4,835.0h2.1v2.4h-2.1zM3585.5,863.3h1.6v2.0h-1.6zM3501.0,864.0h1.9v1.4h-1.9zM3453.3,852.9h1.3v2.0h-1.3zM3433.3,849.0h1.5v1.3h-1.5zM3439.8,852.6h1.7v2.7h-1.7zM3508.9,837.6h2.3v1.2h-2.3zM3575.7,839.3h1.7v1.7h-1.7zM3460.0,852.9h2.4v1.6h-2.4zM3470.1,853.8h1.3v1.5h-1.3zM3458.0,849.8h2.2v2.3h-2.2zM3415.0,831.5h2.4v1.9h-2.4zM3621.1,854.0h1.7v2.9h-1.7zM3439.8,845.6h1.5v1.9h-1.5zM3516.3,837.9h2.1v1.3h-2.1zM3340.0,844.8h2.4v3.5h-2.4zM3250.8,841.7h2.8v1.5h-2.8zM3309.0,840.0h2.5v2.7h-2.5zM3318.3,854.4h1.7v3.4h-1.7zM3276.3,854.0h2.1v3.0h-2.1zM3344.5,845.5h1.9v2.7h-1.9z"/>
<path fill="#ffffff" d="M3132.5,860.5h2.4v2.7h-2.4zM3115.9,858.8h2.4v3.2h-2.4zM3114.4,860.8h1.9v4.5h-1.9zM3129.6,855.3h1.6v9.0h-1.6zM3104.8,860.7h2.4v7.1h-2.4zM3112.9,865.7h3.4v2.5h-3.4zM3127.9,855.3h2.1v7.2h-2.1zM3128.3,855.9h2.5v4.3h-2.5zM3121.5,860.5h2.8v2.2h-2.8z"/>
<path fill="#00ffff" d="M397.0,786.1h2.0v20.7h-2.0zM399.0,782.3h2.0v24.7h-2.0zM401.0,783.2h2.0v21.2h-2.0zM403.0,779.8h2.0v23.3h-2.0zM405.0,780.4h2.0v22.7h-2.0zM407.0,779.1h0.9v23.8h-0.9zM392.4,819.1h2.0v8.4h-2.0zM394.4,818.2h2.0v14.3h-2.0zM396.4,813.7h2.0v11.2h-2.0zM398.4,814.0h2.0v12.5h-2.0zM400.4,817.2h2.0v8.4h-2.0zM402.4,814.3h2.0v15.4h-2.0zM404.4,819.9h2.0v9.8h-2.0zM406.4,810.7h2.0v15.7h-2.0zM410.4,819.5h2.0v5.7h-2.0zM412.4,817.2h2.0v8.8h-2.0zM416.4,817.5h2.0v11.1h-2.0zM418.4,819.6h2.0v9.6h-2.0zM420.4,817.3h0.4v12.9h-0.4zM427.4,820.4h2.0v7.2h-2.0zM429.4,810.2h2.0v18.1h-2.0zM431.4,823.0h2.0v2.9h-2.0zM433.4,821.8h0.5v4.7h-0.5zM436.1,782.5h2.0v14.7h-2.0zM440.1,785.5h0.3v11.6h-0.3zM464.3,790.6h2.0v11.1h-2.0zM466.3,781.7h2.0v19.5h-2.0zM472.3,797.5h2.0v0.4h-2.0zM474.3,792.6h0.9v6.3h-0.9zM464.7,801.3h1.6v8.8h-1.6zM379.6,795.0h2.0v17.7h-2.0zM381.6,806.9h2.0v4.4h-2.0zM383.6,807.8h2.0v6.3h-2.0zM387.6,804.7h0.7v4.9h-0.7zM718.7,802.7h2.0v8.8h-2.0zM720.7,793.4h2.0v20.6h-2.0zM722.7,797.3h2.0v15.2h-2.0zM724.7,804.7h0.5v9.0h-0.5zM727.4,802.6h2.0v12.6h-2.0zM729.4,803.9h2.0v9.3h-2.0zM731.4,805.6h2.0v4.1h-2.0zM733.4,803.9h2.0v5.8h-2.0zM735.4,806.0h0.7v6.0h-0.7zM739.3,802.9h2.0v8.5h-2.0zM741.3,802.8h2.0v8.3h-2.0zM743.3,802.0h1.4v8.2h-1.4zM803.5,790.5h1.7v29.5h-1.7zM268.7,813.8h2.0v11.9h-2.0zM270.7,818.3h0.2v8.5h-0.2zM896.4,810.0h3.0v12.1h-3.0zM900.8,804.2h2.4v18.5h-2.4zM894.5,808.7h2.9v18.9h-2.9zM903.0,805.8h2.9v18.1h-2.9zM902.3,808.3h2.5v17.3h-2.5zM881.5,822.2h2.0v7.0h-2.0zM883.5,824.8h0.2v1.6h-0.2zM996.7,826.0h1.5v8.3h-1.5zM1156.2,815.9h2.7v9.3h-2.7zM1158.9,814.0h1.7v11.3h-1.7zM1164.9,815.2h2.5v9.0h-2.5zM1151.9,811.5h2.0v8.4h-2.0zM1191.3,827.9h2.0v8.7h-2.0zM1193.3,828.4h2.0v7.7h-2.0zM1195.3,828.9h2.0v8.8h-2.0zM1197.3,828.8h2.0v8.1h-2.0zM1199.3,826.0h2.0v11.5h-2.0zM1201.3,827.5h0.9v8.7h-0.9zM1203.3,815.3h2.6v16.3h-2.6zM1198.8,816.4h2.4v17.4h-2.4zM1199.4,822.0h2.7v13.2h-2.7zM1204.1,814.1h2.0v16.7h-2.0zM1247.7,805.5h2.0v34.2h-2.0zM1249.7,802.1h2.0v40.3h-2.0zM1251.7,803.8h2.0v42.0h-2.0zM1253.7,802.4h2.0v38.4h-2.0zM1255.7,806.9h2.0v31.9h-2.0zM1257.7,801.3h1.0v36.4h-1.0zM1269.6,798.7h2.0v40.3h-2.0zM1271.6,798.1h2.0v44.9h-2.0zM1273.6,794.1h2.0v46.4h-2.0zM1275.6,794.9h2.0v43.1h-2.0zM1277.6,796.2h2.0v40.5h-2.0zM1279.6,794.4h2.0v43.0h-2.0zM1281.6,798.6h2.0v38.6h-2.0zM1283.6,798.8h2.0v40.1h-2.0zM1285.6,791.5h2.0v45.9h-2.0zM1287.6,798.3h0.5v40.0h-0.5zM1336.5,822.2h1.7v12.4h-1.7zM1333.7,816.4h2.4v8.1h-2.4zM802.6,791.2h2.0v29.3h-2.0zM804.6,795.2h0.2v23.8h-0.2zM1361.7,821.2h2.0v15.9h-2.0zM1367.7,823.5h0.5v12.4h-0.5zM1386.7,830.2h2.0v9.5h-2.0zM1388.7,830.6h2.0v10.8h-2.0zM1390.7,829.6h2.0v8.4h-2.0zM1392.7,828.9h1.6v14.0h-1.6zM1415.9,838.4h2.0v3.2h-2.0zM1419.9,835.3h2.0v7.2h-2.0zM1423.9,831.1h2.0v12.6h-2.0zM1425.9,833.6h1.0v5.2h-1.0zM1432.7,824.8h1.8v11.6h-1.8zM1467.4,817.8h2.0v9.7h-2.0zM1458.7,829.3h3.0v12.2h-3.0zM1440.7,819.3h1.9v19.3h-1.9zM1459.8,824.2h2.2v15.0h-2.2zM1470.3,820.3h2.1v16.9h-2.1zM1432.6,823.0h2.2v14.0h-2.2zM1473.4,819.5h1.9v12.8h-1.9zM1455.5,823.8h2.0v16.5h-2.0zM1694.9,815.3h1.7v10.9h-1.7zM1704.9,814.9h2.1v16.6h-2.1zM1698.9,815.2h2.6v10.1h-2.6zM1703.3,816.9h1.9v17.1h-1.9zM1696.5,823.4h2.8v9.2h-2.8zM1698.9,815.4h1.7v13.0h-1.7zM1700.6,817.9h1.9v10.9h-1.9zM1703.0,824.2h2.4v11.7h-2.4zM1699.1,814.0h2.4v17.3h-2.4zM1731.3,798.4h2.0v29.7h-2.0zM1733.3,800.5h2.0v23.7h-2.0zM1735.3,804.6h2.0v20.3h-2.0zM1737.3,804.4h2.0v23.0h-2.0zM1743.3,803.8h2.0v21.3h-2.0zM1745.3,798.4h2.0v28.3h-2.0zM1716.1,827.7h2.0v4.4h-2.0zM1718.1,823.8h2.0v9.2h-2.0zM1739.7,825.3h2.7v8.1h-2.7zM1745.6,827.3h1.7v10.1h-1.7zM1736.7,826.2h1.5v8.0h-1.5zM1900.7,808.2h2.0v0.8h-2.0zM1902.7,805.9h2.0v3.9h-2.0zM1904.7,802.2h1.4v4.8h-1.4zM1912.6,814.8h2.0v19.8h-2.0zM1914.6,821.3h2.0v12.0h-2.0zM1916.6,818.7h2.0v13.3h-2.0zM1918.6,824.8h0.5v10.6h-0.5zM1948.5,819.0h2.2v9.6h-2.2zM1949.8,815.7h2.7v15.4h-2.7zM1949.9,818.6h1.9v14.5h-1.9zM1960.1,791.9h1.7v14.0h-1.7zM1958.4,793.0h2.8v30.5h-2.8zM1957.8,803.2h2.1v17.3h-2.1zM1954.8,796.5h1.7v9.6h-1.7zM1955.6,795.3h1.8v19.2h-1.8zM1967.0,809.0h2.0v27.2h-2.0zM1969.0,811.0h2.0v21.7h-2.0zM1971.0,812.8h2.0v20.6h-2.0zM1973.0,814.3h2.0v19.4h-2.0zM1975.0,810.4h2.0v24.4h-2.0zM1977.0,804.4h2.0v30.4h-2.0zM1979.0,814.4h2.0v22.9h-2.0zM1981.0,810.8h2.0v22.7h-2.0zM1983.0,811.4h1.4v23.8h-1.4zM1984.3,795.8h2.0v36.1h-2.0zM1986.3,791.1h2.0v41.5h-2.0zM1988.3,787.1h2.0v47.2h-2.0zM1990.3,790.9h2.0v44.3h-2.0zM1994.3,783.1h2.0v51.2h-2.0zM1996.3,787.9h2.0v47.1h-2.0zM1998.3,788.5h2.0v47.7h-2.0zM2000.3,786.5h2.0v50.9h-2.0zM2002.3,788.9h2.0v50.0h-2.0zM2004.3,787.2h2.0v48.5h-2.0zM2008.3,794.0h2.0v39.5h-2.0zM2010.3,795.0h2.0v37.7h-2.0zM2012.3,793.6h2.0v40.5h-2.0zM2014.3,791.2h2.0v44.2h-2.0zM2016.3,787.6h2.0v48.1h-2.0zM2018.3,789.6h0.8v46.9h-0.8zM2019.1,779.5h2.0v55.5h-2.0zM2021.1,781.5h2.0v55.9h-2.0zM2023.1,783.6h2.0v53.3h-2.0zM2025.1,783.2h2.0v52.3h-2.0zM2029.1,785.8h2.0v51.5h-2.0zM2031.1,786.8h2.0v52.3h-2.0zM2033.1,783.3h2.0v55.8h-2.0zM2035.1,785.1h2.0v51.0h-2.0zM2037.1,785.1h2.0v51.0h-2.0zM2039.1,783.5h2.0v54.0h-2.0zM2043.1,780.7h2.0v53.4h-2.0zM2047.1,785.9h2.0v46.9h-2.0zM2049.1,783.6h2.0v46.8h-2.0zM2051.1,789.0h0.6v40.4h-0.6zM2052.8,795.7h2.0v36.8h-2.0zM2056.8,794.7h2.0v39.5h-2.0zM2060.8,792.4h2.0v40.8h-2.0zM2062.8,785.7h2.0v47.8h-2.0zM1995.1,778.5h2.1v10.5h-2.1zM1998.3,777.5h2.4v11.9h-2.4zM2033.3,773.0h3.0v9.4h-3.0zM2039.4,776.4h2.8v8.2h-2.8zM2038.1,774.8h2.2v10.2h-2.2zM2034.8,772.5h2.4v8.2h-2.4zM2056.5,782.0h2.2v11.7h-2.2zM2082.5,811.6h2.1v21.0h-2.1zM2081.5,810.0h2.6v12.4h-2.6zM2067.0,805.5h2.9v10.2h-2.9zM2075.8,816.2h1.5v10.0h-1.5zM2068.1,803.3h2.2v9.1h-2.2zM2078.9,809.2h2.4v13.2h-2.4zM2070.4,815.5h2.8v16.4h-2.8zM2088.8,803.6h2.2v19.1h-2.2zM2072.5,803.4h2.0v14.3h-2.0zM2090.5,812.2h2.0v21.5h-2.0zM2066.3,815.1h2.8v11.5h-2.8zM2076.3,811.4h3.0v8.6h-3.0zM2084.3,810.7h2.7v22.4h-2.7zM2087.6,806.4h1.5v20.8h-1.5zM2106.4,802.7h1.6v15.8h-1.6zM2105.3,808.0h2.3v10.8h-2.3zM2125.7,796.6h2.0v41.0h-2.0zM2127.7,801.0h2.0v37.2h-2.0zM2129.7,799.7h2.0v40.2h-2.0zM2131.7,795.2h2.0v40.2h-2.0zM2135.7,800.5h2.0v34.9h-2.0zM2137.7,803.3h2.0v34.2h-2.0zM2141.7,799.4h2.0v33.2h-2.0zM2143.7,800.8h2.0v35.1h-2.0zM2145.7,798.8h2.0v39.5h-2.0zM2147.7,794.8h2.0v44.1h-2.0zM2149.7,801.0h2.0v35.3h-2.0zM2151.7,801.8h2.0v32.7h-2.0zM2155.7,800.2h2.0v34.7h-2.0zM2157.7,800.3h2.0v34.2h-2.0zM2159.7,802.5h0.8v39.4h-0.8zM2166.9,807.6h1.6v16.8h-1.6zM2160.4,810.0h2.5v16.3h-2.5zM2163.8,811.0h1.7v14.9h-1.7zM2160.6,810.1h2.5v20.2h-2.5zM2147.4,791.7h1.9v9.0h-1.9zM2154.3,790.6h2.1v8.3h-2.1zM2147.4,789.9h2.1v9.6h-2.1zM2150.4,789.6h2.1v8.2h-2.1zM2228.4,818.0h1.8v14.2h-1.8zM2244.1,808.6h2.8v10.2h-2.8zM2241.3,808.4h2.6v15.0h-2.6zM2246.4,823.0h1.6v10.1h-1.6zM2247.3,809.5h2.0v18.8h-2.0zM2268.1,823.2h2.7v8.4h-2.7zM2268.9,823.0h2.0v8.7h-2.0zM2397.4,806.5h2.0v6.8h-2.0zM2399.4,808.4h0.2v1.7h-0.2zM2588.5,831.6h2.0v4.1h-2.0zM2590.5,819.1h1.3v17.0h-1.3zM2608.0,832.4h2.0v2.6h-2.0zM2610.0,832.5h0.8v3.2h-0.8zM866.3,469.6L869.6,469.1L870.0,479.3L867.0,480.0zM887.0,460.9L893.5,455.4L908.7,458.7L910.9,453.3L917.4,454.3L918.5,463.0L939.1,458.7L942.4,471.7L934.8,482.6L923.9,485.9L920.7,473.9L902.2,475.0L900.0,495.7L895.7,497.8L889.1,491.3zM958.7,475.0L965.2,482.6L971.7,504.3L969.6,513.0L960.9,510.9zM1014.1,426.1L1028.3,425.0L1030.4,432.6L1019.6,432.6zM1030.4,432.6L1039.1,430.4L1050.0,441.3L1047.8,448.9L1031.5,445.7zM1023.9,459.8L1029.3,458.7L1030.4,467.4L1025.0,468.5zM1067.4,428.3L1073.9,425.0L1084.8,432.6L1082.6,440.2L1069.6,437.0zM1087.0,430.4L1095.7,427.8L1102.2,432.6L1102.6,441.3L1099.6,434.8L1091.3,434.8L1089.1,437.0zM1081.5,463.0L1090.2,465.2L1090.2,473.9L1082.6,472.8zM1098.9,468.5L1112.0,466.3L1110.9,473.9L1101.1,478.3zM1113.0,437.0L1132.6,441.3L1135.9,456.5L1126.1,471.7L1121.7,454.3L1113.0,450.0zM1137.0,448.9L1141.3,448.9L1141.3,454.3L1137.0,454.3zM1147.8,452.2L1158.7,447.8L1157.6,460.9L1150.0,462.0zM1031.2,514.9l4.4,0l7.4,24.5l-4.4,0zM1035.4,510.6l3.2,0l8.5,28.3l-3.2,0zM1027.0,515.5l4.7,0l5.8,19.5l-4.7,0zM1026.3,512.4l3.8,0l7.5,25.0l-3.8,0zM1029.3,510.7l3.3,0l8.1,26.9l-3.3,0zM1033.5,511.3l2.1,0l7.6,25.5l-2.1,0zM1033.9,519.5l4.5,0l6.2,20.7l-4.5,0zM1045.2,531.8l1.7,0l3.2,10.7l-1.7,0zM1043.7,532.0l2.1,0l3.3,11.1l-2.1,0zM1085.3,522.1l3.3,0l7.7,25.7l-3.3,0zM1082.8,514.2l2.6,0l5.1,17.0l-2.6,0zM1081.7,523.6l3.0,0l7.5,25.1l-3.0,0zM1086.8,513.3l2.4,0l4.8,16.1l-2.4,0zM1077.7,519.7l3.7,0l8.5,28.4l-3.7,0zM1087.0,514.8l3.1,0l5.0,16.8l-3.1,0zM1082.4,523.9l4.8,0l5.4,18.2l-4.8,0zM1084.1,533.9l5.0,0l3.8,12.7l-5.0,0zM1080.1,530.9l2.4,0l4.2,14.0l-2.4,0zM1110.7,513.4l4.8,0l4.0,13.3l-4.8,0zM1107.3,505.0l3.9,0l6.3,21.0l-3.9,0zM1111.8,505.9l2.3,0l6.6,21.9l-2.3,0zM1106.4,506.9l3.5,0l9.5,31.8l-3.5,0zM1102.7,507.1l3.3,0l9.6,32.0l-3.3,0zM1103.9,534.5l2.9,0l4.2,13.9l-2.9,0zM1101.3,508.7l4.3,0l6.8,22.6l-4.3,0zM1111.5,507.8l3.9,0l9.1,30.3l-3.9,0zM1107.0,509.2l2.5,0l9.6,32.1l-2.5,0zM1111.4,516.5l4.7,0l6.7,22.4l-4.7,0zM1119.7,525.8l2.6,0l7.2,24.1l-2.6,0zM1117.0,525.7l4.0,0l4.4,14.7l-4.0,0zM1116.5,523.5l3.7,0l5.8,19.5l-3.7,0zM1121.4,526.0l2.4,0l3.1,10.4l-2.4,0zM1117.7,537.8l3.3,0l3.5,11.7l-3.3,0zM1072.4,507.7l2.8,0l3.9,12.9l-2.8,0zM1054.5,496.8l1.9,0l3.9,13.0l-1.9,0zM1062.8,509.9l2.0,0l1.8,6.0l-2.0,0zM1062.3,507.1l1.6,0l2.8,9.2l-1.6,0zM1062.6,506.6l1.5,0l3.2,10.8l-1.5,0zM1135.9,463.0L1147.8,464.1L1145.7,475.0L1137.0,473.9zM1130.4,487.0L1139.1,487.0L1140.2,508.7L1132.6,506.5zM1169.6,476.1L1180.4,480.4L1179.3,495.7L1169.6,493.5zM1141.3,517.4L1150.0,518.5L1147.8,534.8L1143.5,532.6zM1212.5,495.0l2.7,0l2.6,8.7l-2.7,0zM1208.3,494.3l2.1,0l2.7,9.1l-2.1,0zM1209.1,492.2l2.3,0l3.3,11.0l-2.3,0zM1222.0,489.0l2.7,0l5.2,17.3l-2.7,0zM1221.8,492.9l3.8,0l5.4,18.2l-3.8,0zM1226.1,484.9l2.4,0l4.9,16.2l-2.4,0zM1197.8,506.5L1208.7,507.6L1207.6,517.4L1198.9,517.4zM1184.8,530.4L1197.8,521.7L1213.0,523.9L1226.1,539.1L1243.5,552.2L1244.6,571.7L1232.6,573.9L1213.0,571.7L1202.2,552.2L1187.0,543.5zM1246.9,551.0l2.9,0l3.9,13.1l-2.9,0zM1245.3,541.7l3.0,0l3.1,10.5l-3.0,0zM1245.5,546.1l2.2,0l4.0,13.2l-2.2,0zM1266.9,506.2l4.9,0l10.5,34.9l-4.9,0zM1274.4,521.0l2.6,0l6.3,21.1l-2.6,0zM1266.3,503.8l3.3,0l7.9,26.2l-3.3,0zM1270.4,499.6l3.2,0l4.7,15.7l-3.2,0zM1273.5,542.8l2.7,0l6.5,21.7l-2.7,0zM1271.8,526.0l2.2,0l6.6,21.9l-2.2,0zM1275.8,509.3l3.7,0l6.5,21.6l-3.7,0zM1264.1,531.6l4.2,0l6.1,20.4l-4.2,0zM1275.3,539.2l2.9,0l4.8,16.0l-2.9,0zM1308.4,473.7l2.7,0l2.3,7.7l-2.7,0zM1315.9,473.1l2.9,0l2.5,8.2l-2.9,0zM1316.8,472.1l2.2,0l2.1,7.0l-2.2,0zM1283.1,502.1L1286.6,496.9L1304.9,477.7L1313.7,477.7L1318.9,489.9L1343.4,489.9L1345.1,479.4L1353.9,482.9L1381.8,486.4L1388.8,475.9L1408.0,470.7L1410.6,456.7L1415.0,472.4L1420.2,460.2L1422.0,477.7L1415.0,489.9L1418.5,514.3L1415.0,517.8L1420.2,545.8L1427.2,549.3L1444.7,559.8L1455.2,570.2L1460.4,587.7L1456.9,593.0L1423.7,593.0L1420.2,594.7L1392.3,577.2L1381.8,584.2L1367.8,572.0L1353.9,591.2L1346.9,580.7L1317.2,568.5L1292.7,542.3L1287.5,517.8zM1272.1,518.9l3.1,0l7.6,25.5l-3.1,0zM1274.9,507.5l3.7,0l10.1,33.8l-3.7,0zM1277.7,512.0l3.7,0l6.1,20.2l-3.7,0z"/>
<path fill="#ffffff" d="M1364.6,518.6l3.7,0l8.9,29.6l-3.7,0zM1363.9,518.9l5.9,0l9.1,30.3l-5.9,0zM1379.0,504.2l2.3,0l6.6,22.0l-2.3,0zM1375.4,506.3l2.8,0l5.5,18.2l-2.8,0zM1403.7,519.4l1.9,0l3.2,10.8l-1.9,0zM1411.5,519.6l1.8,0l3.6,12.0l-1.8,0zM1405.2,519.2l1.9,0l3.2,10.6l-1.9,0z"/>
<path fill="#00ffff" d="M1439.1,511.8l4.1,0l10.7,35.8l-4.1,0zM1438.6,503.1l3.4,0l11.8,39.3l-3.4,0zM1437.5,500.6l3.8,0l11.2,37.5l-3.8,0zM1438.1,500.2l6.0,0l11.9,39.7l-6.0,0zM1453.2,535.8l2.3,0l2.5,8.3l-2.3,0zM1456.7,535.2l2.8,0l3.2,10.5l-2.8,0zM1475.5,558.6l5.5,0l5.9,19.7l-5.5,0zM1477.4,561.2l4.5,0l5.0,16.8l-4.5,0zM1469.7,558.5l5.2,0l7.1,23.6l-5.2,0zM1470.7,560.4l5.4,0l7.0,23.3l-5.4,0zM1448.2,463.7L1458.7,457.6L1462.2,465.4L1477.9,472.4L1476.1,482.9L1465.7,477.7L1460.4,488.1L1451.7,484.6zM1457.1,493.7l2.9,0l3.0,10.0l-2.9,0zM1451.9,487.6l2.3,0l3.8,12.8l-2.3,0zM1467.2,492.9l1.7,0l2.9,9.6l-1.7,0zM1466.2,489.2l1.7,0l3.6,11.9l-1.7,0zM1477.0,509.1L1484.9,514.3L1490.1,496.9L1492.7,481.1L1498.9,495.1L1505.0,510.8L1509.3,542.3L1521.6,531.8L1528.6,542.3L1539.0,552.8L1544.3,524.8L1533.8,503.9L1537.3,493.4L1547.8,467.2L1558.3,472.4L1563.5,495.1L1565.2,542.3L1567.0,577.2L1565.2,605.2L1556.5,605.2L1542.5,587.7L1532.1,599.9L1518.1,606.9L1509.3,577.2L1497.1,573.7L1488.4,556.3L1479.6,531.8z"/>
<path fill="#ffb6c1" d="M1516.2,547.6l2.1,0l0.0,35.6l-2.1,0zM1556.4,574.3l2.2,0l0.0,20.4l-2.2,0z"/>
<path fill="#ffffff" d="M1536.1,531.9l2.9,0l5.2,17.3l-2.9,0zM1532.2,532.6l3.8,0l5.8,19.2l-3.8,0zM1538.7,534.8l3.1,0l5.1,17.1l-3.1,0z"/>
<path fill="#00ffff" d="M1582.4,532.5l2.2,0l2.8,9.4l-2.2,0zM1578.8,532.5l2.5,0l3.3,11.0l-2.5,0zM1590.2,545.0l3.8,0l6.9,22.8l-3.8,0zM1594.4,560.7l2.4,0l9.3,31.0l-2.4,0zM1588.9,546.1l4.0,0l7.4,24.7l-4.0,0zM1591.9,561.1l4.9,0l9.8,32.5l-4.9,0zM1585.7,543.7l4.3,0l9.7,32.2l-4.3,0zM1623.9,576.3l4.3,0l5.0,16.8l-4.3,0zM1618.6,578.0l4.6,0l6.3,20.8l-4.6,0zM1603.2,576.2l4.3,0l8.2,27.3l-4.3,0zM1615.6,581.4l3.8,0l6.5,21.8l-3.8,0zM1624.0,576.8l2.3,0l7.5,25.1l-2.3,0zM1610.9,576.5l2.6,0l7.5,25.1l-2.6,0zM1619.4,574.8l4.8,0l8.4,28.0l-4.8,0zM1621.6,580.7l2.7,0l6.1,20.4l-2.7,0zM1609.1,528.7l2.8,0l1.7,5.5l-2.8,0zM1612.3,528.7l2.8,0l1.4,4.6l-2.8,0zM1594.9,463.7L1601.9,453.2L1622.9,442.7L1629.9,454.9L1643.9,430.5L1650.9,449.7L1666.6,441.0L1670.1,463.7L1673.6,489.9L1663.1,517.8L1657.8,531.8L1645.6,523.1L1619.4,517.8L1612.4,528.3L1601.9,502.1z"/>
<path fill="#ffffff" d="M1623.2,459.1l2.1,0l6.2,41.6l-2.1,0zM1653.1,459.5l4.0,0l4.1,27.5l-4.0,0zM1630.0,468.3l2.9,0l5.6,37.4l-2.9,0zM1635.1,478.2l3.6,0l3.4,22.6l-3.6,0zM1638.4,480.1l4.0,0l3.9,25.7l-4.0,0zM1638.2,452.6l4.4,0l6.3,41.9l-4.4,0zM1621.7,454.3l3.2,0l6.1,40.5l-3.2,0zM1661.8,461.4l2.4,0l6.3,42.3l-2.4,0zM1660.3,447.2l3.9,0l5.9,39.2l-3.9,0zM1619.9,475.2l4.1,0l4.9,32.8l-4.1,0z"/>
<path fill="#00ffff" d="M1680.2,472.9l3.3,0l2.3,23.0l-3.3,0zM1694.0,458.7l2.5,0l4.0,40.0l-2.5,0zM1691.2,455.9l3.7,0l4.2,41.7l-3.7,0zM1694.8,457.9l3.2,0l3.0,30.2l-3.2,0zM1695.0,465.9l4.1,0l3.9,38.8l-4.1,0zM1695.4,470.3l2.1,0l3.4,34.3l-2.1,0zM1677.7,463.1l3.0,0l3.7,36.6l-3.0,0zM1679.7,455.1l2.6,0l4.3,43.3l-2.6,0zM1695.2,460.8l4.6,0l4.2,42.0l-4.6,0zM1704.3,456.8l3.1,0l2.6,25.9l-3.1,0zM1705.8,455.4l2.3,0l2.9,28.7l-2.3,0zM1694.3,533.6l2.9,0l4.1,13.6l-2.9,0zM1696.6,449.5l1.5,0l3.8,31.6l-1.5,0zM1705.4,463.2l2.5,0l2.8,23.1l-2.5,0zM1698.6,464.4l2.8,0l2.8,22.9l-2.8,0zM1705.5,455.9l1.5,0l3.3,27.4l-1.5,0zM1708.2,455.9l2.6,0l3.1,25.7l-2.6,0zM1690.4,449.9l2.3,0l3.1,25.4l-2.3,0zM1682.3,448.3l1.8,0l3.8,31.7l-1.8,0zM1728.7,471.3l2.5,0l1.4,14.5l-2.5,0zM1722.6,470.5l2.8,0l1.4,14.1l-2.8,0zM1737.5,500.9l2.3,0l2.5,16.7l-2.3,0zM1738.2,487.5l2.8,0l2.7,17.7l-2.8,0zM1738.5,478.0l1.6,0l3.6,23.8l-1.6,0zM1751.0,463.6l1.8,0l3.8,25.6l-1.8,0zM1740.6,482.1l3.4,0l3.2,21.6l-3.4,0zM1739.3,487.5l1.7,0l3.0,19.8l-1.7,0zM1743.5,476.6l2.7,0l2.8,18.8l-2.7,0zM1763.4,502.5l3.0,0l2.3,15.2l-3.0,0zM1765.2,502.8l1.7,0l2.6,17.5l-1.7,0zM1776.1,530.4l5.5,0l2.2,10.8l-5.5,0zM1797.3,497.9l2.1,0l1.5,14.7l-2.1,0zM1795.9,498.8l2.8,0l1.5,15.3l-2.8,0zM1695.6,532.7l1.9,0l4.1,13.6l-1.9,0zM1807.1,544.0l2.0,0l2.0,20.3l-2.0,0zM1803.9,545.6l3.0,0l2.0,19.6l-3.0,0zM1812.0,524.0L1818.0,509.0L1824.0,504.0L1843.0,505.0L1900.0,503.0L1900.0,590.0L1875.0,572.0L1855.0,566.0L1841.0,562.0L1834.0,567.0L1828.0,560.0L1818.0,540.0z"/>
<path fill="#ffb6c1" d="M1819.0,523.0L1894.0,523.0L1900.0,530.0L1900.0,568.0L1871.0,569.0L1855.0,561.0L1832.0,553.0L1822.0,540.0z"/>
<path fill="#00ffff" d="M1895.6,540.9l1.6,0l0.0,16.4l-1.6,0zM1826.4,539.4l1.5,0l0.0,17.9l-1.5,0zM1849.4,537.4l1.8,0l0.0,14.4l-1.8,0zM1869.3,544.8l2.0,0l0.0,10.1l-2.0,0zM1844.4,523.8l1.8,0l0.0,12.7l-1.8,0zM1836.0,535.4l1.6,0l0.0,10.4l-1.6,0zM1821.2,534.0l1.3,0l0.0,12.9l-1.3,0zM1836.1,529.8l1.3,0l0.0,15.7l-1.3,0zM1892.6,528.3l1.3,0l0.0,13.6l-1.3,0zM1886.6,534.3l1.9,0l0.0,18.3l-1.9,0zM1835.4,543.7l1.7,0l0.0,13.3l-1.7,0zM1855.7,547.3l1.7,0l0.0,7.4l-1.7,0zM1875.4,529.4l1.7,0l0.0,13.1l-1.7,0zM1835.1,533.1l2.0,0l0.0,21.9l-2.0,0zM1894.2,546.4l1.4,0l0.0,9.6l-1.4,0zM1897.6,539.4l1.4,0l0.0,9.6l-1.4,0z"/>
<path fill="#ffffff" d="M1838.2,536.6l3.2,0l3.6,11.8l-3.2,0zM1838.7,536.6l2.6,0l4.2,13.9l-2.6,0zM1866.1,526.5l2.7,0l3.2,10.8l-2.7,0zM1863.7,526.1l2.9,0l3.4,11.4l-2.9,0zM1828.2,538.2l2.5,0l1.7,5.6l-2.5,0zM1828.5,530.4l1.7,0l1.7,5.7l-1.7,0z"/>
<path fill="#00ffff" d="M1840.0,503.9L1868.3,501.7L1911.7,503.9L1944.3,497.4L2013.9,495.2L2015.0,465.9L2057.4,467.0L2060.7,484.3L2055.2,517.0L2079.1,543.0L2090.0,538.7L2100.9,551.7L2150.9,543.0L2159.6,532.2L2192.2,543.0L2200.9,532.2L2220.4,519.1L2229.1,525.7L2231.3,547.4L2263.9,536.5L2274.8,569.1L2266.1,582.2L2279.1,619.1L2277.0,647.4L2285.7,638.7L2283.5,653.9L2277.0,690.9L2283.5,710.0L2281.3,711.7L2277.0,722.6L2274.8,755.2L2271.5,768.3L2266.1,755.2L2261.7,755.2L2242.2,755.2L2233.5,735.7L2231.3,711.7L2229.1,680.0L2219.3,680.0L2218.3,690.0L2198.7,703.0L2200.9,729.1L2196.5,716.1L2190.0,733.5L2187.8,755.2L2183.5,750.9L2174.8,718.3L2163.9,731.3L2159.6,716.1L2153.0,703.0L2148.7,709.6L2144.3,690.0L2144.3,675.7L2122.6,638.7L2111.7,625.7L2096.5,614.8L2085.7,582.2L2070.4,625.7L2057.4,625.7L2048.7,619.1L2013.9,612.6L1981.3,617.0L1953.0,608.3L1944.3,582.2L1911.7,590.9L1883.5,569.1L1861.7,560.4L1840.0,558.3z"/>
<path fill="#ffb6c1" d="M1840.0,523.5L1890.0,523.5L1894.3,551.7L1872.6,569.1L1853.0,560.4L1840.0,558.3z"/>
<path fill="#00ffff" d="M1852.8,529.6l2.4,0l0.0,21.8l-2.4,0zM1874.9,533.1l2.9,0l0.0,19.5l-2.9,0zM1886.0,545.1l2.4,0l0.0,11.7l-2.4,0zM1851.1,544.4l1.6,0l0.0,14.5l-1.6,0zM1876.0,527.6l2.9,0l0.0,20.3l-2.9,0zM1869.3,540.8l2.5,0l0.0,18.4l-2.5,0zM1887.7,532.0l2.1,0l0.0,13.7l-2.1,0zM1854.5,539.1l2.6,0l0.0,16.4l-2.6,0zM1876.4,527.9l2.8,0l0.0,19.1l-2.8,0zM1841.8,528.1l2.3,0l0.0,24.2l-2.3,0zM1981.8,478.4l6.2,0l2.4,4.9l-6.2,0z"/>
<path fill="#ffffff" d="M1908.8,531.7l3.4,0l5.1,25.3l-3.4,0zM1938.1,525.0l2.7,0l5.8,28.9l-2.7,0zM1932.8,533.5l2.7,0l4.0,20.0l-2.7,0zM1906.0,539.5l3.8,0l3.5,17.7l-3.8,0zM2029.2,515.0l4.3,0l2.7,18.0l-4.3,0zM2041.3,506.4l2.3,0l3.7,24.7l-2.3,0zM2014.2,504.1l2.9,0l1.6,10.6l-2.9,0zM2020.8,509.5l2.2,0l2.0,13.4l-2.2,0zM2030.0,516.3l4.0,0l2.5,16.7l-4.0,0zM2047.8,507.2l3.4,0l1.7,11.2l-3.4,0zM2032.4,512.7l3.6,0l1.7,11.4l-3.6,0zM2034.9,514.0l4.7,0l1.9,12.8l-4.7,0zM2090.2,579.6l3.6,0l4.7,18.6l-3.6,0zM2093.5,567.1l2.2,0l5.7,22.9l-2.2,0zM2073.5,546.6l3.3,0l5.2,20.7l-3.3,0zM2088.4,543.4l3.2,0l9.4,37.5l-3.2,0zM2084.8,584.9l3.6,0l3.9,15.7l-3.6,0zM2069.0,556.2l3.9,0l5.7,22.6l-3.9,0zM2127.4,556.7l3.4,0l3.2,21.3l-3.4,0zM2178.0,561.2l2.3,0l3.0,19.8l-2.3,0zM2114.6,560.9l2.3,0l2.2,14.9l-2.3,0zM2144.3,563.8l3.6,0l2.0,13.4l-3.6,0zM2137.3,553.8l3.2,0l2.6,17.3l-3.2,0zM2132.0,566.5l3.0,0l1.9,12.9l-3.0,0zM2170.0,552.1l3.5,0l3.7,24.5l-3.5,0zM2125.1,556.5l2.2,0l2.8,18.5l-2.2,0zM2227.6,559.0l3.2,0l3.7,37.5l-3.2,0zM2237.0,570.0l3.2,0l3.4,33.6l-3.2,0zM2237.5,563.0l2.2,0l3.9,38.7l-2.2,0z"/>
<path fill="#00ffff" d="M2245.8,708.5l2.0,0l1.7,33.8l-2.0,0zM2215.5,713.4l2.2,0l1.7,33.1l-2.2,0zM2173.0,716.5l4.0,0l1.2,24.5l-4.0,0zM2155.2,719.8l3.4,0l1.6,32.1l-3.4,0zM2266.9,716.5l3.7,0l0.9,18.4l-3.7,0zM2256.6,729.1l2.3,0l1.1,22.0l-2.3,0zM2196.5,705.3l3.9,0l1.5,29.1l-3.9,0zM2194.4,719.9l3.1,0l1.5,30.3l-3.1,0zM2242.2,707.7l3.1,0l1.3,25.4l-3.1,0zM2164.1,709.9l2.1,0l1.5,29.3l-2.1,0zM2236.4,706.6l2.9,0l1.4,27.7l-2.9,0zM2221.6,710.0l3.3,0l1.5,30.7l-3.3,0zM2018.4,480.3l4.0,0l1.5,14.8l-4.0,0zM2049.2,469.5l2.5,0l1.5,15.1l-2.5,0zM2028.5,470.2l2.8,0l1.2,11.7l-2.8,0zM2015.2,463.4l3.1,0l1.5,15.4l-3.1,0zM2032.5,465.2l3.9,0l2.4,24.2l-3.9,0zM2030.4,477.4l2.1,0l1.5,14.7l-2.1,0zM2092.9,535.0l2.2,0l1.4,13.7l-2.2,0zM2092.4,538.3l2.4,0l1.2,11.5l-2.4,0zM2098.3,538.7l2.1,0l1.3,12.7l-2.1,0zM2154.2,534.7l3.5,0l1.3,12.5l-3.5,0zM2154.4,534.5l3.2,0l1.2,11.6l-3.2,0zM2172.1,535.8l3.8,0l1.0,9.7l-3.8,0zM2165.8,532.7l3.8,0l1.2,12.4l-3.8,0zM2274.8,542.2l2.2,0l2.6,25.9l-2.2,0zM2273.8,551.4l2.8,0l2.9,29.4l-2.8,0zM2275.0,559.4l2.9,0l1.8,18.4l-2.9,0zM2286.1,641.1l2.8,0l2.3,22.9l-2.8,0zM2285.8,642.7l2.4,0l2.5,24.6l-2.4,0zM1960.5,603.8l2.2,0l2.6,8.7l-2.2,0zM1955.1,603.8l2.8,0l2.7,9.1l-2.8,0zM2070.1,621.6l2.9,0l2.4,7.8l-2.9,0zM2058.2,621.9l2.5,0l2.7,9.1l-2.5,0zM2060.0,622.1l2.4,0l2.8,9.3l-2.4,0zM3570.4,445.2L3575.3,438.7L3578.0,436.5L3585.7,436.5L3588.9,442.0L3593.3,440.9L3594.3,432.2L3596.5,430.9L3605.2,433.3L3606.3,463.7L3596.5,463.7L3595.4,459.3L3588.9,463.7L3582.4,464.2L3578.0,457.2L3571.5,455.0zM3522.1,450.1L3530.2,449.6L3541.6,447.9L3547.1,455.0L3546.0,465.9L3538.9,465.9L3536.2,456.1L3525.9,456.1L3522.1,455.0zM3552.0,438.7L3553.6,436.0L3557.9,439.2L3557.9,442.0L3552.0,442.0zM3624.8,452.8L3633.5,452.8L3635.7,472.4L3630.2,483.8L3628.6,472.4L3624.8,462.6zM3607.9,471.8L3616.1,471.8L3615.5,480.0L3611.7,482.7L3609.6,480.0zM3586.7,463.7L3588.0,463.7L3587.6,468.6zM564.0,437.0L565.2,437.0L565.2,439.0L567.0,439.0L567.0,441.0L568.5,441.5L570.1,442.0L570.1,461.0L567.0,462.0L561.0,459.0L561.0,452.0L563.0,452.0L563.0,448.0L564.0,448.0z"/>
</g>
<g clip-path="url(#ax)">
<polygon points="402.4,776.5 436.4,776.5 419.4,806.5" fill="#ff0000"/>
<polygon points="402.4,814.6 436.4,814.6 419.4,784.6" fill="#ff0000"/>
<polygon points="472.7,952.0 506.7,952.0 489.7,982.0" fill="#ff0000"/>
<polygon points="472.7,973.0 506.7,973.0 489.7,943.0" fill="#ff0000"/>
<polygon points="964.5,490.9 998.5,490.9 981.5,520.9" fill="#ff0000"/>
<polygon points="964.5,526.7 998.5,526.7 981.5,496.7" fill="#ff0000"/>
<polygon points="1034.8,464.8 1068.8,464.8 1051.8,494.8" fill="#ff0000"/>
<polygon points="1034.8,512.0 1068.8,512.0 1051.8,482.0" fill="#ff0000"/>
<polygon points="1140.2,467.0 1174.2,467.0 1157.2,497.0" fill="#ff0000"/>
<polygon points="1140.2,517.8 1174.2,517.8 1157.2,487.8" fill="#ff0000"/>
<polygon points="1175.3,510.0 1209.3,510.0 1192.3,540.0" fill="#ff0000"/>
<polygon points="1175.3,567.8 1209.3,567.8 1192.3,537.8" fill="#ff0000"/>
<polygon points="1210.5,521.1 1244.5,521.1 1227.5,551.1" fill="#ff0000"/>
<polygon points="1210.5,579.8 1244.5,579.8 1227.5,549.8" fill="#ff0000"/>
<polygon points="1245.6,797.0 1279.6,797.0 1262.6,827.0" fill="#ff0000"/>
<polygon points="1245.6,848.0 1279.6,848.0 1262.6,818.0" fill="#ff0000"/>
<polygon points="1280.8,481.1 1314.8,481.1 1297.8,511.1" fill="#ff0000"/>
<polygon points="1280.8,567.7 1314.8,567.7 1297.8,537.7" fill="#ff0000"/>
<polygon points="1315.9,499.0 1349.9,499.0 1332.9,529.0" fill="#ff0000"/>
<polygon points="1315.9,587.7 1349.9,587.7 1332.9,557.7" fill="#ff0000"/>
<polygon points="1351.0,485.2 1385.0,485.2 1368.0,515.2" fill="#ff0000"/>
<polygon points="1351.0,598.4 1385.0,598.4 1368.0,568.4" fill="#ff0000"/>
<polygon points="1386.2,479.0 1420.2,479.0 1403.2,509.0" fill="#ff0000"/>
<polygon points="1386.2,597.7 1420.2,597.7 1403.2,567.7" fill="#ff0000"/>
<polygon points="1421.3,553.2 1455.3,553.2 1438.3,583.2" fill="#ff0000"/>
<polygon points="1421.3,593.7 1455.3,593.7 1438.3,563.7" fill="#ff0000"/>
<polygon points="1491.6,512.2 1525.6,512.2 1508.6,542.2" fill="#ff0000"/>
<polygon points="1491.6,604.7 1525.6,604.7 1508.6,574.7" fill="#ff0000"/>
<polygon points="1526.7,474.2 1560.7,474.2 1543.7,504.2" fill="#ff0000"/>
<polygon points="1526.7,615.7 1560.7,615.7 1543.7,585.7" fill="#ff0000"/>
<polygon points="1561.8,545.0 1595.8,545.0 1578.8,575.0" fill="#ff0000"/>
<polygon points="1561.8,592.7 1595.8,592.7 1578.8,562.7" fill="#ff0000"/>
<polygon points="1597.0,456.1 1631.0,456.1 1614.0,486.1" fill="#ff0000"/>
<polygon points="1597.0,495.8 1631.0,495.8 1614.0,465.8" fill="#ff0000"/>
<polygon points="1632.1,451.1 1666.1,451.1 1649.1,481.1" fill="#ff0000"/>
<polygon points="1632.1,522.5 1666.1,522.5 1649.1,492.5" fill="#ff0000"/>
<polygon points="1667.2,806.3 1701.2,806.3 1684.2,836.3" fill="#ff0000"/>
<polygon points="1667.2,842.2 1701.2,842.2 1684.2,812.2" fill="#ff0000"/>
<polygon points="1772.6,952.0 1806.6,952.0 1789.6,982.0" fill="#ff0000"/>
<polygon points="1772.6,975.0 1806.6,975.0 1789.6,945.0" fill="#ff0000"/>
<polygon points="1842.9,504.0 1876.9,504.0 1859.9,534.0" fill="#ff0000"/>
<polygon points="1842.9,558.4 1876.9,558.4 1859.9,528.4" fill="#ff0000"/>
<polygon points="1878.0,504.0 1912.0,504.0 1895.0,534.0" fill="#ff0000"/>
<polygon points="1878.0,590.0 1912.0,590.0 1895.0,560.0" fill="#ff0000"/>
<polygon points="1913.2,508.9 1947.2,508.9 1930.2,538.9" fill="#ff0000"/>
<polygon points="1913.2,601.7 1947.2,601.7 1930.2,571.7" fill="#ff0000"/>
<polygon points="1948.3,494.8 1982.3,494.8 1965.3,524.8" fill="#ff0000"/>
<polygon points="1948.3,628.9 1982.3,628.9 1965.3,598.9" fill="#ff0000"/>
<polygon points="1983.4,496.3 2017.4,496.3 2000.4,526.3" fill="#ff0000"/>
<polygon points="1983.4,639.8 2017.4,639.8 2000.4,609.8" fill="#ff0000"/>
<polygon points="2018.6,463.0 2052.6,463.0 2035.6,493.0" fill="#ff0000"/>
<polygon points="2018.6,637.6 2052.6,637.6 2035.6,607.6" fill="#ff0000"/>
<polygon points="2053.7,515.2 2087.7,515.2 2070.7,545.2" fill="#ff0000"/>
<polygon points="2053.7,608.9 2087.7,608.9 2070.7,578.9" fill="#ff0000"/>
<polygon points="2088.8,551.3 2122.8,551.3 2105.8,581.3" fill="#ff0000"/>
<polygon points="2088.8,634.8 2122.8,634.8 2105.8,604.8" fill="#ff0000"/>
<polygon points="2124.0,548.0 2158.0,548.0 2141.0,578.0" fill="#ff0000"/>
<polygon points="2124.0,673.5 2158.0,673.5 2141.0,643.5" fill="#ff0000"/>
<polygon points="2159.1,546.3 2193.1,546.3 2176.1,576.3" fill="#ff0000"/>
<polygon points="2159.1,745.9 2193.1,745.9 2176.1,715.9" fill="#ff0000"/>
<polygon points="2194.2,520.2 2228.2,520.2 2211.2,550.2" fill="#ff0000"/>
<polygon points="2194.2,720.4 2228.2,720.4 2211.2,690.4" fill="#ff0000"/>
<polygon points="2229.4,548.0 2263.4,548.0 2246.4,578.0" fill="#ff0000"/>
<polygon points="2229.4,755.9 2263.4,755.9 2246.4,725.9" fill="#ff0000"/>
<polygon points="2264.5,845.2 2298.5,845.2 2281.5,875.2" fill="#ff0000"/>
<polygon points="2264.5,892.6 2298.5,892.6 2281.5,862.6" fill="#ff0000"/>
<polygon points="2299.6,844.3 2333.6,844.3 2316.6,874.3" fill="#ff0000"/>
<polygon points="2299.6,892.6 2333.6,892.6 2316.6,862.6" fill="#ff0000"/>
<polygon points="2334.8,822.2 2368.8,822.2 2351.8,852.2" fill="#ff0000"/>
<polygon points="2334.8,889.6 2368.8,889.6 2351.8,859.6" fill="#ff0000"/>
<polygon points="2369.9,812.3 2403.9,812.3 2386.9,842.3" fill="#ff0000"/>
<polygon points="2369.9,902.6 2403.9,902.6 2386.9,872.6" fill="#ff0000"/>
<polygon points="2405.0,823.3 2439.0,823.3 2422.0,853.3" fill="#ff0000"/>
<polygon points="2440.2,952.0 2474.2,952.0 2457.2,982.0" fill="#ff0000"/>
<polygon points="2440.2,973.3 2474.2,973.3 2457.2,943.3" fill="#ff0000"/>
<polygon points="2510.4,847.0 2544.4,847.0 2527.4,877.0" fill="#ff0000"/>
<polygon points="2510.4,889.6 2544.4,889.6 2527.4,859.6" fill="#ff0000"/>
<polygon points="2615.8,831.3 2649.8,831.3 2632.8,861.3" fill="#ff0000"/>
<polygon points="2615.8,888.3 2649.8,888.3 2632.8,858.3" fill="#ff0000"/>
<polygon points="3599.6,435.1 3633.6,435.1 3616.6,465.1" fill="#ff0000"/>
<polygon points="3599.6,471.8 3633.6,471.8 3616.6,441.8" fill="#ff0000"/>
<polygon points="1386.2,808.7 1420.2,808.7 1403.2,838.7" fill="#ff0000"/><polygon points="1396.2,814.6 1410.2,814.6 1403.2,826.9" fill="#fff"/>
<polygon points="1386.2,852.6 1420.2,852.6 1403.2,822.6" fill="#ff0000"/><polygon points="1396.2,846.7 1410.2,846.7 1403.2,834.4" fill="#fff"/>
<polygon points="1913.2,817.2 1947.2,817.2 1930.2,847.2" fill="#ff0000"/><polygon points="1923.2,823.1 1937.2,823.1 1930.2,835.4" fill="#fff"/>
<polygon points="1913.2,878.0 1947.2,878.0 1930.2,848.0" fill="#ff0000"/><polygon points="1923.2,872.1 1937.2,872.1 1930.2,859.8" fill="#fff"/>
<polygon points="1948.3,800.2 1982.3,800.2 1965.3,830.2" fill="#ff0000"/><polygon points="1958.3,806.1 1972.3,806.1 1965.3,818.4" fill="#fff"/>
<polygon points="1948.3,847.6 1982.3,847.6 1965.3,817.6" fill="#ff0000"/><polygon points="1958.3,841.7 1972.3,841.7 1965.3,829.4" fill="#fff"/>
<polygon points="1983.4,788.9 2017.4,788.9 2000.4,818.9" fill="#ff0000"/><polygon points="1993.4,794.8 2007.4,794.8 2000.4,807.1" fill="#fff"/>
<polygon points="1983.4,846.1 2017.4,846.1 2000.4,816.1" fill="#ff0000"/><polygon points="1993.4,840.2 2007.4,840.2 2000.4,827.9" fill="#fff"/>
<polygon points="2018.6,781.3 2052.6,781.3 2035.6,811.3" fill="#ff0000"/><polygon points="2028.6,787.2 2042.6,787.2 2035.6,799.5" fill="#fff"/>
<polygon points="2018.6,846.1 2052.6,846.1 2035.6,816.1" fill="#ff0000"/><polygon points="2028.6,840.2 2042.6,840.2 2035.6,827.9" fill="#fff"/>
<polygon points="2053.7,806.3 2087.7,806.3 2070.7,836.3" fill="#ff0000"/><polygon points="2063.7,812.2 2077.7,812.2 2070.7,824.5" fill="#fff"/>
<polygon points="2053.7,880.9 2087.7,880.9 2070.7,850.9" fill="#ff0000"/><polygon points="2063.7,875.0 2077.7,875.0 2070.7,862.7" fill="#fff"/>
<polygon points="2088.8,826.3 2122.8,826.3 2105.8,856.3" fill="#ff0000"/><polygon points="2098.8,832.2 2112.8,832.2 2105.8,844.5" fill="#fff"/>
<polygon points="2088.8,881.7 2122.8,881.7 2105.8,851.7" fill="#ff0000"/><polygon points="2098.8,875.8 2112.8,875.8 2105.8,863.5" fill="#fff"/>
<polygon points="2124.0,800.2 2158.0,800.2 2141.0,830.2" fill="#ff0000"/><polygon points="2134.0,806.1 2148.0,806.1 2141.0,818.4" fill="#fff"/>
<polygon points="2124.0,846.1 2158.0,846.1 2141.0,816.1" fill="#ff0000"/><polygon points="2134.0,840.2 2148.0,840.2 2141.0,827.9" fill="#fff"/>
<polygon points="2159.1,806.3 2193.1,806.3 2176.1,836.3" fill="#ff0000"/><polygon points="2169.1,812.2 2183.1,812.2 2176.1,824.5" fill="#fff"/>
<polygon points="2159.1,886.7 2193.1,886.7 2176.1,856.7" fill="#ff0000"/><polygon points="2169.1,880.8 2183.1,880.8 2176.1,868.5" fill="#fff"/>
<polygon points="2194.2,820.0 2228.2,820.0 2211.2,850.0" fill="#ff0000"/><polygon points="2204.2,825.9 2218.2,825.9 2211.2,838.2" fill="#fff"/>
<polygon points="2194.2,894.8 2228.2,894.8 2211.2,864.8" fill="#ff0000"/><polygon points="2204.2,888.9 2218.2,888.9 2211.2,876.6" fill="#fff"/>
<polygon points="2229.4,837.4 2263.4,837.4 2246.4,867.4" fill="#ff0000"/><polygon points="2239.4,843.3 2253.4,843.3 2246.4,855.6" fill="#fff"/>
<polygon points="2229.4,894.8 2263.4,894.8 2246.4,864.8" fill="#ff0000"/><polygon points="2239.4,888.9 2253.4,888.9 2246.4,876.6" fill="#fff"/>
<circle cx="314.0" cy="890.0" r="16.9" fill="#32cd32"/>
<circle cx="349.1" cy="899.8" r="16.9" fill="#32cd32"/>
<circle cx="384.3" cy="911.7" r="16.9" fill="#32cd32"/>
<circle cx="419.4" cy="783.5" r="16.9" fill="#32cd32"/>
<circle cx="454.5" cy="780.2" r="16.9" fill="#32cd32"/>
<circle cx="489.7" cy="828.0" r="16.9" fill="#32cd32"/>
<circle cx="524.8" cy="902.2" r="16.9" fill="#32cd32"/>
<circle cx="559.9" cy="878.7" r="16.9" fill="#32cd32"/>
<circle cx="595.1" cy="921.5" r="16.9" fill="#32cd32"/>
<circle cx="630.2" cy="899.8" r="16.9" fill="#32cd32"/>
<circle cx="665.3" cy="901.5" r="16.9" fill="#32cd32"/>
<circle cx="770.7" cy="795.0" r="16.9" fill="#32cd32"/>
<circle cx="805.9" cy="836.7" r="16.9" fill="#32cd32"/>
<circle cx="841.0" cy="858.9" r="16.9" fill="#32cd32"/>
<circle cx="876.1" cy="909.1" r="16.9" fill="#32cd32"/>
<circle cx="946.4" cy="895.9" r="16.9" fill="#32cd32"/>
<circle cx="981.5" cy="904.8" r="16.9" fill="#32cd32"/>
<circle cx="1016.7" cy="898.0" r="16.9" fill="#32cd32"/>
<circle cx="1051.8" cy="841.1" r="16.9" fill="#32cd32"/>
<circle cx="1086.9" cy="885.2" r="16.9" fill="#32cd32"/>
<circle cx="1227.5" cy="744.8" r="16.9" fill="#32cd32"/>
<circle cx="1262.6" cy="782.4" r="16.9" fill="#32cd32"/>
<circle cx="1297.8" cy="737.8" r="16.9" fill="#32cd32"/>
<circle cx="1368.0" cy="724.8" r="16.9" fill="#32cd32"/>
<circle cx="1403.2" cy="816.1" r="16.9" fill="#32cd32"/>
<circle cx="1438.3" cy="798.0" r="16.9" fill="#32cd32"/>
<circle cx="1473.4" cy="765.0" r="16.9" fill="#32cd32"/>
<circle cx="1508.6" cy="743.7" r="16.9" fill="#32cd32"/>
<circle cx="1543.7" cy="773.3" r="16.9" fill="#32cd32"/>
<circle cx="1649.1" cy="852.0" r="16.9" fill="#32cd32"/>
<circle cx="1684.2" cy="874.8" r="16.9" fill="#32cd32"/>
<circle cx="1719.4" cy="799.8" r="16.9" fill="#32cd32"/>
<circle cx="1754.5" cy="853.5" r="16.9" fill="#32cd32"/>
<circle cx="1789.6" cy="841.5" r="16.9" fill="#32cd32"/>
<circle cx="1859.9" cy="800.9" r="16.9" fill="#32cd32"/>
<circle cx="1895.0" cy="848.7" r="16.9" fill="#32cd32"/>
<circle cx="1930.2" cy="711.1" r="16.9" fill="#32cd32"/>
<circle cx="2035.6" cy="613.0" r="16.9" fill="#32cd32"/>
<circle cx="2105.8" cy="735.7" r="16.9" fill="#32cd32"/>
<circle cx="2141.0" cy="650.0" r="16.9" fill="#32cd32"/>
<circle cx="2176.1" cy="606.7" r="16.9" fill="#32cd32"/>
<circle cx="2211.2" cy="602.4" r="16.9" fill="#32cd32"/>
<circle cx="2246.4" cy="660.4" r="16.9" fill="#32cd32"/>
<circle cx="2316.6" cy="855.9" r="16.9" fill="#32cd32"/>
<circle cx="2351.8" cy="858.5" r="16.9" fill="#32cd32"/>
<circle cx="2386.9" cy="832.4" r="16.9" fill="#32cd32"/>
<circle cx="2422.0" cy="857.8" r="16.9" fill="#32cd32"/>
<circle cx="2457.2" cy="912.8" r="16.9" fill="#32cd32"/>
<circle cx="2527.4" cy="935.7" r="16.9" fill="#32cd32"/>
<circle cx="2562.6" cy="867.2" r="16.9" fill="#32cd32"/>
<circle cx="2597.7" cy="870.0" r="16.9" fill="#32cd32"/>
<circle cx="2632.8" cy="885.7" r="16.9" fill="#32cd32"/>
<circle cx="2668.0" cy="929.1" r="16.9" fill="#32cd32"/>
<circle cx="911.3" cy="578.3" r="16.7" fill="#0000ff"/>
<circle cx="1157.2" cy="500.0" r="16.7" fill="#0000ff"/>
<circle cx="1192.3" cy="560.9" r="16.7" fill="#0000ff"/>
<circle cx="1332.9" cy="544.7" r="16.7" fill="#0000ff"/>
<circle cx="1578.8" cy="514.6" r="16.7" fill="#0000ff"/>
<circle cx="1614.0" cy="550.7" r="16.7" fill="#0000ff"/>
<circle cx="1965.3" cy="557.2" r="16.7" fill="#0000ff"/>
<circle cx="2000.4" cy="570.9" r="16.7" fill="#0000ff"/>
<circle cx="2070.7" cy="525.0" r="16.7" fill="#0000ff"/>
<circle cx="2281.5" cy="594.6" r="16.7" fill="#0000ff"/>
<circle cx="3616.6" cy="245.2" r="16.7" fill="#0000ff"/>
</g>
<g clip-path="url(#ax)">
<path d="M266.0,203.6 L408.0,205.0 L540.0,208.2 L679.0,218.1 L824.0,227.4 L936.0,227.4 L1042.0,226.7 L1240.0,224.0 L1385.0,223.4 L1504.0,230.7 L1566.0,234.0 L1566.2,234.0" fill="none" stroke="#000" stroke-width="4.2" stroke-linejoin="round"/><path d="M1672.2,234.0 L1675.5,234.0 L1741.4,232.0 L1768.0,226.7 L1810.8,224.7 L1852.3,217.0 L1853.6,205.6 L1950.0,199.0 L2082.0,196.4 L2200.8,195.0 L2346.0,189.1 L2478.0,184.5 L2511.0,182.5 L2557.0,174.6 L2573.6,168.6 L2586.8,162.0 L2619.8,153.5 L2682.5,140.9 L2775.0,137.6 L2907.0,136.3 L3072.0,140.9 L3204.0,147.5 L3336.0,152.1 L3468.0,155.4 L3637.0,158.7" fill="none" stroke="#000" stroke-width="4.2" stroke-linejoin="round"/>
<path d="M266.0,490.3 L654.0,486.5 L856.0,488.3 L1159.0,489.6 L1360.0,489.6 L1561.0,491.3 L1561.5,491.3" fill="none" stroke="#000" stroke-width="4.2" stroke-linejoin="round"/><path d="M1667.5,491.3 L1668.0,491.3 L1840.0,492.0 L2100.0,494.5 L2350.0,497.9 L2511.5,501.5 L2652.8,495.4 L2779.0,498.4 L3031.0,499.0 L3208.0,501.5 L3359.0,503.0 L3440.0,502.8 L3637.0,498.8" fill="none" stroke="#000" stroke-width="4.2" stroke-linejoin="round"/>
<path d="M266.0,611.5 L705.0,610.5 L1209.6,612.2 L1561.0,614.1 L1561.5,614.1" fill="none" stroke="#000" stroke-width="4.2" stroke-linejoin="round"/><path d="M1667.5,614.6 L1668.0,614.6 L1840.0,618.0 L2100.0,624.0 L2350.0,629.2 L2501.0,629.2 L2673.0,623.1 L3026.0,623.1 L3198.0,625.6 L3536.0,626.6 L3637.0,629.7" fill="none" stroke="#000" stroke-width="4.2" stroke-linejoin="round"/>
<path d="M266.0,808.0 L476.0,796.5 L480.4,790.4 L510.9,786.7 L641.3,781.3 L717.4,779.1 L810.0,778.5 L1000.0,780.0 L1360.0,783.0 L1560.0,785.0 L1561.5,785.0" fill="none" stroke="#000" stroke-width="4.2" stroke-linejoin="round"/><path d="M1667.5,785.0 L1880.0,786.5 L2100.0,786.7 L2380.0,785.7 L2500.0,783.5 L2677.8,782.4 L2940.0,783.5 L3150.8,783.5 L3313.0,786.5 L3357.0,788.3 L3498.9,788.8 L3637.0,800.7" fill="none" stroke="#000" stroke-width="4.2" stroke-linejoin="round"/>
<path d="M266.0,859.6 L330.4,859.8 L333.0,861.1 L582.6,861.1 L585.9,862.2 L810.0,862.5 L1000.0,863.2 L1360.0,863.9 L1440.0,863.5 L1561.5,860.7" fill="none" stroke="#000" stroke-width="4.2" stroke-linejoin="round"/><path d="M1667.5,857.8 L1668.5,857.8 L1840.0,857.4 L2000.0,858.5 L2100.0,857.0 L2250.0,854.0 L2380.0,852.0 L2619.0,850.9 L2706.0,847.6 L2784.3,843.9 L2806.0,834.1 L2901.7,832.5 L3041.6,827.8 L3112.4,827.2 L3189.0,829.6 L3313.0,830.7 L3490.0,830.7 L3637.0,838.1" fill="none" stroke="#000" stroke-width="4.2" stroke-linejoin="round"/>
<path d="M266.0,942.8 L313.0,942.2 L315.2,940.5 L658.7,940.5 L660.9,942.2 L791.3,942.6 L793.5,943.6 L1054.0,943.0 L1056.0,943.6 L1561.5,943.4" fill="none" stroke="#000" stroke-width="4.2" stroke-linejoin="round"/><path d="M1667.5,943.4 L1953.0,943.8 L2020.0,942.7 L2241.0,941.8 L2440.0,938.8 L2671.3,939.2 L2675.0,938.0 L2775.7,937.8 L2900.0,936.4 L2967.9,938.7 L3077.0,941.7 L3195.0,940.8 L3283.5,939.3 L3342.5,937.8 L3431.0,934.9 L3498.9,932.8 L3569.6,935.5 L3637.0,935.5" fill="none" stroke="#000" stroke-width="4.2" stroke-linejoin="round"/>
<text class="lib" transform="rotate(1.6,1619.5,234.8)" x="1619.5" y="255.7" font-size="58.33" text-anchor="middle">210</text>
<text class="lib" x="1614.7" y="512.2" font-size="58.33" text-anchor="middle">230</text>
<text class="lib" x="1614.7" y="635.2" font-size="58.33" text-anchor="middle">250</text>
<text class="lib" x="1614.7" y="805.9" font-size="58.33" text-anchor="middle">273</text>
<text class="lib" x="1614.7" y="880.2" font-size="58.33" text-anchor="middle">279</text>
<text class="lib" x="1614.7" y="964.3" font-size="58.33" text-anchor="middle">290</text>
</g>
<path d="M266.0,109.0 L266.0,956.6 L3640.0,956.6" fill="none" stroke="#000" stroke-width="6.0" stroke-linejoin="miter"/>
<line x1="266.0" y1="112.00" x2="347.0" y2="112.00" stroke="#000" stroke-width="6.0"/>
<text x="232.8" y="136.6" font-size="67.5" text-anchor="end">16.9</text>
<line x1="266.0" y1="217.57" x2="347.0" y2="217.57" stroke="#000" stroke-width="6.0"/>
<text x="232.8" y="242.2" font-size="67.5" text-anchor="end">14.8</text>
<line x1="266.0" y1="323.15" x2="347.0" y2="323.15" stroke="#000" stroke-width="6.0"/>
<text x="232.8" y="347.8" font-size="67.5" text-anchor="end">12.7</text>
<line x1="266.0" y1="428.73" x2="347.0" y2="428.73" stroke="#000" stroke-width="6.0"/>
<text x="232.8" y="453.3" font-size="67.5" text-anchor="end">10.6</text>
<line x1="266.0" y1="534.30" x2="347.0" y2="534.30" stroke="#000" stroke-width="6.0"/>
<text x="232.8" y="558.9" font-size="67.5" text-anchor="end">8.52</text>
<line x1="266.0" y1="639.88" x2="347.0" y2="639.88" stroke="#000" stroke-width="6.0"/>
<text x="232.8" y="664.5" font-size="67.5" text-anchor="end">6.42</text>
<line x1="266.0" y1="745.45" x2="347.0" y2="745.45" stroke="#000" stroke-width="6.0"/>
<text x="232.8" y="770.1" font-size="67.5" text-anchor="end">4.31</text>
<line x1="266.0" y1="851.02" x2="347.0" y2="851.02" stroke="#000" stroke-width="6.0"/>
<text x="232.8" y="875.6" font-size="67.5" text-anchor="end">2.21</text>
<text x="232.8" y="981.2" font-size="67.5" text-anchor="end">0.10</text>
<text x="266.0" y="1036.6" font-size="74.5" text-anchor="middle">0</text>
<line x1="336.23" y1="956.6" x2="336.23" y2="923.6" stroke="#000" stroke-width="6.0"/>
<line x1="406.46" y1="956.6" x2="406.46" y2="923.6" stroke="#000" stroke-width="6.0"/>
<line x1="476.69" y1="956.6" x2="476.69" y2="923.6" stroke="#000" stroke-width="6.0"/>
<line x1="546.92" y1="956.6" x2="546.92" y2="893.9" stroke="#000" stroke-width="6.0"/>
<text x="546.9" y="1036.6" font-size="74.5" text-anchor="middle">2</text>
<line x1="617.15" y1="956.6" x2="617.15" y2="923.6" stroke="#000" stroke-width="6.0"/>
<line x1="687.38" y1="956.6" x2="687.38" y2="923.6" stroke="#000" stroke-width="6.0"/>
<line x1="757.60" y1="956.6" x2="757.60" y2="923.6" stroke="#000" stroke-width="6.0"/>
<line x1="827.83" y1="956.6" x2="827.83" y2="893.9" stroke="#000" stroke-width="6.0"/>
<text x="827.8" y="1036.6" font-size="74.5" text-anchor="middle">4</text>
<line x1="898.06" y1="956.6" x2="898.06" y2="923.6" stroke="#000" stroke-width="6.0"/>
<line x1="968.29" y1="956.6" x2="968.29" y2="923.6" stroke="#000" stroke-width="6.0"/>
<line x1="1038.52" y1="956.6" x2="1038.52" y2="923.6" stroke="#000" stroke-width="6.0"/>
<line x1="1108.75" y1="956.6" x2="1108.75" y2="893.9" stroke="#000" stroke-width="6.0"/>
<text x="1108.8" y="1036.6" font-size="74.5" text-anchor="middle">6</text>
<line x1="1178.98" y1="956.6" x2="1178.98" y2="923.6" stroke="#000" stroke-width="6.0"/>
<line x1="1249.21" y1="956.6" x2="1249.21" y2="923.6" stroke="#000" stroke-width="6.0"/>
<line x1="1319.44" y1="956.6" x2="1319.44" y2="923.6" stroke="#000" stroke-width="6.0"/>
<line x1="1389.67" y1="956.6" x2="1389.67" y2="893.9" stroke="#000" stroke-width="6.0"/>
<text x="1389.7" y="1036.6" font-size="74.5" text-anchor="middle">8</text>
<line x1="1459.90" y1="956.6" x2="1459.90" y2="923.6" stroke="#000" stroke-width="6.0"/>
<line x1="1530.12" y1="956.6" x2="1530.12" y2="923.6" stroke="#000" stroke-width="6.0"/>
<line x1="1600.35" y1="956.6" x2="1600.35" y2="923.6" stroke="#000" stroke-width="6.0"/>
<line x1="1670.58" y1="956.6" x2="1670.58" y2="893.9" stroke="#000" stroke-width="6.0"/>
<text x="1670.6" y="1036.6" font-size="74.5" text-anchor="middle">10</text>
<line x1="1740.81" y1="956.6" x2="1740.81" y2="923.6" stroke="#000" stroke-width="6.0"/>
<line x1="1811.04" y1="956.6" x2="1811.04" y2="923.6" stroke="#000" stroke-width="6.0"/>
<line x1="1881.27" y1="956.6" x2="1881.27" y2="923.6" stroke="#000" stroke-width="6.0"/>
<line x1="1951.50" y1="956.6" x2="1951.50" y2="893.9" stroke="#000" stroke-width="6.0"/>
<text x="1951.5" y="1036.6" font-size="74.5" text-anchor="middle">12</text>
<line x1="2021.73" y1="956.6" x2="2021.73" y2="923.6" stroke="#000" stroke-width="6.0"/>
<line x1="2091.96" y1="956.6" x2="2091.96" y2="923.6" stroke="#000" stroke-width="6.0"/>
<line x1="2162.19" y1="956.6" x2="2162.19" y2="923.6" stroke="#000" stroke-width="6.0"/>
<line x1="2232.42" y1="956.6" x2="2232.42" y2="893.9" stroke="#000" stroke-width="6.0"/>
<text x="2232.4" y="1036.6" font-size="74.5" text-anchor="middle">14</text>
<line x1="2302.65" y1="956.6" x2="2302.65" y2="923.6" stroke="#000" stroke-width="6.0"/>
<line x1="2372.88" y1="956.6" x2="2372.88" y2="923.6" stroke="#000" stroke-width="6.0"/>
<line x1="2443.10" y1="956.6" x2="2443.10" y2="923.6" stroke="#000" stroke-width="6.0"/>
<line x1="2513.33" y1="956.6" x2="2513.33" y2="893.9" stroke="#000" stroke-width="6.0"/>
<text x="2513.3" y="1036.6" font-size="74.5" text-anchor="middle">16</text>
<line x1="2583.56" y1="956.6" x2="2583.56" y2="923.6" stroke="#000" stroke-width="6.0"/>
<line x1="2653.79" y1="956.6" x2="2653.79" y2="923.6" stroke="#000" stroke-width="6.0"/>
<line x1="2724.02" y1="956.6" x2="2724.02" y2="923.6" stroke="#000" stroke-width="6.0"/>
<line x1="2794.25" y1="956.6" x2="2794.25" y2="893.9" stroke="#000" stroke-width="6.0"/>
<text x="2794.2" y="1036.6" font-size="74.5" text-anchor="middle">18</text>
<line x1="2864.48" y1="956.6" x2="2864.48" y2="923.6" stroke="#000" stroke-width="6.0"/>
<line x1="2934.71" y1="956.6" x2="2934.71" y2="923.6" stroke="#000" stroke-width="6.0"/>
<line x1="3004.94" y1="956.6" x2="3004.94" y2="923.6" stroke="#000" stroke-width="6.0"/>
<line x1="3075.17" y1="956.6" x2="3075.17" y2="893.9" stroke="#000" stroke-width="6.0"/>
<text x="3075.2" y="1036.6" font-size="74.5" text-anchor="middle">20</text>
<line x1="3145.40" y1="956.6" x2="3145.40" y2="923.6" stroke="#000" stroke-width="6.0"/>
<line x1="3215.62" y1="956.6" x2="3215.62" y2="923.6" stroke="#000" stroke-width="6.0"/>
<line x1="3285.85" y1="956.6" x2="3285.85" y2="923.6" stroke="#000" stroke-width="6.0"/>
<line x1="3356.08" y1="956.6" x2="3356.08" y2="893.9" stroke="#000" stroke-width="6.0"/>
<text x="3356.1" y="1036.6" font-size="74.5" text-anchor="middle">22</text>
<line x1="3426.31" y1="956.6" x2="3426.31" y2="923.6" stroke="#000" stroke-width="6.0"/>
<line x1="3496.54" y1="956.6" x2="3496.54" y2="923.6" stroke="#000" stroke-width="6.0"/>
<line x1="3566.77" y1="956.6" x2="3566.77" y2="923.6" stroke="#000" stroke-width="6.0"/>
<line x1="3637.00" y1="956.6" x2="3637.00" y2="893.9" stroke="#000" stroke-width="6.0"/>
<text x="3637.0" y="1036.6" font-size="74.5" text-anchor="middle">24</text>
<text class="lib" x="1952" y="77" font-size="100.4" text-anchor="middle">Lampedusa: 2025/11/08</text>
<text x="1951.5" y="1117" font-size="76" text-anchor="middle">Time (UTC)</text>
<text transform="translate(35.8,534.5) rotate(-90)" font-size="66.67" text-anchor="middle">Height AMSL (km)</text>
<rect x="266.0" y="1143.7" width="3371.0" height="56.3" fill="url(#cb)"/>
<line x1="263.0" y1="1200" x2="3640.0" y2="1200" stroke="#000" stroke-width="6"/>
<line x1="266.00" y1="1200" x2="266.00" y2="1183" stroke="#000" stroke-width="6"/>
<line x1="378.37" y1="1200" x2="378.37" y2="1190" stroke="#000" stroke-width="6"/>
<line x1="490.73" y1="1200" x2="490.73" y2="1190" stroke="#000" stroke-width="6"/>
<line x1="603.10" y1="1200" x2="603.10" y2="1190" stroke="#000" stroke-width="6"/>
<line x1="715.47" y1="1200" x2="715.47" y2="1190" stroke="#000" stroke-width="6"/>
<line x1="827.83" y1="1200" x2="827.83" y2="1190" stroke="#000" stroke-width="6"/>
<line x1="940.20" y1="1200" x2="940.20" y2="1190" stroke="#000" stroke-width="6"/>
<line x1="1052.57" y1="1200" x2="1052.57" y2="1190" stroke="#000" stroke-width="6"/>
<line x1="1164.93" y1="1200" x2="1164.93" y2="1190" stroke="#000" stroke-width="6"/>
<line x1="1277.30" y1="1200" x2="1277.30" y2="1190" stroke="#000" stroke-width="6"/>
<line x1="1389.67" y1="1200" x2="1389.67" y2="1183" stroke="#000" stroke-width="6"/>
<line x1="1502.03" y1="1200" x2="1502.03" y2="1190" stroke="#000" stroke-width="6"/>
<line x1="1614.40" y1="1200" x2="1614.40" y2="1190" stroke="#000" stroke-width="6"/>
<line x1="1726.77" y1="1200" x2="1726.77" y2="1190" stroke="#000" stroke-width="6"/>
<line x1="1839.13" y1="1200" x2="1839.13" y2="1190" stroke="#000" stroke-width="6"/>
<line x1="1951.50" y1="1200" x2="1951.50" y2="1190" stroke="#000" stroke-width="6"/>
<line x1="2063.87" y1="1200" x2="2063.87" y2="1190" stroke="#000" stroke-width="6"/>
<line x1="2176.23" y1="1200" x2="2176.23" y2="1190" stroke="#000" stroke-width="6"/>
<line x1="2288.60" y1="1200" x2="2288.60" y2="1190" stroke="#000" stroke-width="6"/>
<line x1="2400.97" y1="1200" x2="2400.97" y2="1190" stroke="#000" stroke-width="6"/>
<line x1="2513.33" y1="1200" x2="2513.33" y2="1183" stroke="#000" stroke-width="6"/>
<line x1="2625.70" y1="1200" x2="2625.70" y2="1190" stroke="#000" stroke-width="6"/>
<line x1="2738.07" y1="1200" x2="2738.07" y2="1190" stroke="#000" stroke-width="6"/>
<line x1="2850.43" y1="1200" x2="2850.43" y2="1190" stroke="#000" stroke-width="6"/>
<line x1="2962.80" y1="1200" x2="2962.80" y2="1190" stroke="#000" stroke-width="6"/>
<line x1="3075.17" y1="1200" x2="3075.17" y2="1190" stroke="#000" stroke-width="6"/>
<line x1="3187.53" y1="1200" x2="3187.53" y2="1190" stroke="#000" stroke-width="6"/>
<line x1="3299.90" y1="1200" x2="3299.90" y2="1190" stroke="#000" stroke-width="6"/>
<line x1="3412.27" y1="1200" x2="3412.27" y2="1190" stroke="#000" stroke-width="6"/>
<line x1="3524.63" y1="1200" x2="3524.63" y2="1190" stroke="#000" stroke-width="6"/>
<line x1="3637.00" y1="1200" x2="3637.00" y2="1183" stroke="#000" stroke-width="6"/>
<text x="180.7" y="1263" font-size="58.6">Clear</text>
<text x="1390.5" y="1263" font-size="58.33" text-anchor="middle">Water</text>
<text x="2514" y="1263" font-size="58.33" text-anchor="middle">Ice</text>
<text x="3638.5" y="1263" font-size="58.33" text-anchor="middle">Other</text>
<rect x="256" y="1313" width="644.2" height="142" fill="#fff" stroke="#000" stroke-width="6"/>
<circle cx="293.6" cy="1384" r="16.9" fill="#32cd32"/>
<text x="331.7" y="1405.3" font-size="58.33">SEV-CTTH SL Wat</text>
<rect x="1001" y="1313" width="611" height="142" fill="#fff" stroke="#000" stroke-width="6"/>
<circle cx="1038.2" cy="1384" r="16.9" fill="#0000ff"/>
<text x="1076.5" y="1405.3" font-size="58.33">SEV-CTTH SL Ice</text>
<rect x="2328" y="1313" width="559.4" height="401.6" fill="#fff" stroke="#000" stroke-width="6"/>
<polygon points="2348.2,1393.9 2382.2,1393.9 2365.2,1363.9" fill="#ff0000"/>
<polygon points="2348.2,1460.1 2382.2,1460.1 2365.2,1490.1" fill="#ff0000"/>
<polygon points="2348.2,1566.8 2382.2,1566.8 2365.2,1536.8" fill="#ff0000"/><polygon points="2358.2,1560.9 2372.2,1560.9 2365.2,1548.6" fill="#fff"/>
<polygon points="2348.2,1632.7 2382.2,1632.7 2365.2,1662.7" fill="#ff0000"/><polygon points="2358.2,1638.6 2372.2,1638.6 2365.2,1650.9" fill="#fff"/>
<text x="2402.5" y="1404.8" font-size="58.33">ACTRIS CBH</text>
<text x="2402.5" y="1491.7" font-size="58.33">ACTRIS CTH</text>
<text x="2402.5" y="1578.6" font-size="58.33">ACTRIS CBH BL</text>
<text x="2402.5" y="1665.5" font-size="58.33">ACTRIS CTH BL</text>
</svg></body></html>
